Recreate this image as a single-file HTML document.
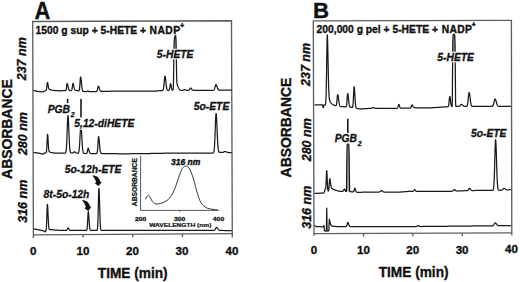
<!DOCTYPE html>
<html><head><meta charset="utf-8"><style>
html,body{margin:0;padding:0;background:#fff;}
svg{display:block;}
text{font-family:"Liberation Sans", sans-serif;fill:#111;}
.b{font-weight:bold;}
.bi{font-weight:bold;font-style:italic;}
.s{stroke:#111;stroke-width:0.35px;}
</style></head><body>
<svg width="520" height="282" viewBox="0 0 520 282">
<rect width="520" height="282" fill="#fff"/>
<!-- panel letters -->
<text class="b s" x="34.4" y="19.2" font-size="24.3" transform="translate(34.4 0) scale(0.9 1) translate(-34.4 0)">A</text>
<text class="b s" x="313.0" y="18.1" font-size="22.2">B</text>

<!-- frames -->
<g fill="none" stroke="#5e5e5e" stroke-width="1.35" stroke-linejoin="miter">
<path d="M33.4,237.9 L32.7,21.5 L231.5,20.8 L232.3,237.4"/>
<path d="M314.0,235.7 L313.3,20.9 L511.4,20.4 L511.8,235.6"/>
<path d="M33.4,234.8 L232.3,233.7"/>
<path d="M83.1,234.5 V237.6 M132.7,234.3 V237.3 M182.4,234.0 V237.0"/>
<path d="M314.0,233.6 L511.8,232.8"/>
<path d="M363.5,233.4 V236.5 M412.8,233.2 V236.3 M462.3,233.0 V236.1"/>
</g>
<!-- tick labels -->
<g class="b s" font-size="11.6" text-anchor="middle">
<text class="b s" x="33.3" y="255.30">0</text>
<text class="b s" x="83.0" y="255.10">10</text>
<text class="b s" x="132.4" y="254.90">20</text>
<text class="b s" x="182.0" y="254.71">30</text>
<text class="b s" x="232.0" y="254.51">40</text>
<text class="b s" x="314.0" y="254.20">0</text>
<text class="b s" x="363.4" y="254.00">10</text>
<text class="b s" x="412.8" y="253.80">20</text>
<text class="b s" x="462.1" y="253.61">30</text>
<text class="b s" x="511.5" y="253.41">40</text>
</g>
<text class="b s" font-size="14.4" transform="translate(97.8 278.4) scale(0.95 1)">TIME (min)</text>
<text class="b s" font-size="14.4" transform="translate(378.7 277.3) scale(0.95 1)">TIME (min)</text>

<!-- y labels -->
<text class="b s" font-size="14.8" transform="translate(11.7 178.9) rotate(-90) scale(0.94 1)">ABSORBANCE</text>
<text class="b s" font-size="14.8" transform="translate(290.9 177.4) rotate(-90) scale(0.94 1)">ABSORBANCE</text>
<g class="bi" font-size="12.5">
<text class="bi s" transform="translate(26.2 80.3) rotate(-90)">237 nm</text>
<text class="bi s" transform="translate(26.7 155.1) rotate(-90)">280 nm</text>
<text class="bi s" transform="translate(26.7 222.8) rotate(-90)">316 nm</text>
<text class="bi s" transform="translate(310.4 86.0) rotate(-90)">237 nm</text>
<text class="bi s" transform="translate(310.7 161.3) rotate(-90)">280 nm</text>
<text class="bi s" transform="translate(310.8 228.8) rotate(-90)">316 nm</text>
</g>

<!-- traces -->
<clipPath id="cp"><rect x="0" y="0" width="520" height="52"/><rect x="340" y="0" width="20" height="200"/></clipPath>
<g fill="#a8a8a8" stroke="none" clip-path="url(#cp)">
<path d="M172.50,90.11 L172.75,89.97 L173.00,89.74 L173.25,89.02 L173.50,81.89 L173.75,63.25 L174.00,47.41 L174.25,40.65 L174.50,38.47 L174.75,37.42 L175.00,36.54 L175.25,35.77 L175.50,35.28 L175.75,35.75 L176.00,39.52 L176.25,50.52 L176.50,68.25 L176.75,80.90 L177.00,83.82 L177.25,84.53 L177.50,85.22 Z"/>
<path d="M451.60,106.42 L451.85,106.66 L452.10,106.66 L452.35,97.38 L452.60,62.93 L452.85,40.74 L453.10,35.21 L453.35,34.48 L453.60,34.43 L453.85,34.40 L454.10,34.38 L454.35,34.37 L454.60,34.53 L454.85,36.46 L455.10,47.09 L455.35,76.72 L455.60,103.44 L455.85,106.47 L456.10,106.46 L456.35,106.44 Z"/>
<path d="M345.60,191.30 L345.85,191.45 L346.10,191.51 L346.35,191.44 L346.60,182.98 L346.85,158.21 L347.10,146.30 L347.35,144.16 L347.60,144.00 L347.85,144.00 L348.10,144.00 L348.35,144.01 L348.60,144.08 L348.85,145.09 L349.10,151.85 L349.35,172.74 L349.60,190.30 L349.85,191.60 L350.10,191.61 L350.35,191.63 Z"/>
</g>
<g fill="none" stroke="#1a1a1a" stroke-width="1.25" stroke-linejoin="round">
<path d="M33.50,90.34 L33.75,90.41 L34.00,90.47 L34.25,90.54 L34.50,90.61 L34.75,90.68 L35.00,90.75 L35.25,90.82 L35.50,90.89 L35.75,90.96 L36.00,91.03 L36.25,91.09 L36.50,91.16 L36.75,91.23 L37.00,91.30 L37.25,91.33 L37.50,91.36 L37.75,91.39 L38.00,91.42 L38.25,91.45 L38.50,91.47 L38.75,91.50 L39.00,91.53 L39.25,91.56 L39.50,91.59 L39.75,91.62 L40.00,91.65 L40.25,91.68 L40.50,91.71 L40.75,91.74 L41.00,91.77 L41.25,91.80 L41.50,91.83 L41.75,91.85 L42.00,91.88 L42.25,91.91 L42.50,91.94 L42.75,91.97 L43.00,92.00 L43.25,91.84 L43.50,91.68 L43.75,91.51 L44.00,91.35 L44.25,91.19 L44.50,91.03 L44.75,90.89 L45.00,90.83 L45.25,90.77 L45.50,90.70 L45.75,90.61 L46.00,90.40 L46.25,89.97 L46.50,89.01 L46.75,87.32 L47.00,85.11 L47.25,83.11 L47.50,82.30 L47.75,83.00 L48.00,84.41 L48.25,86.04 L48.50,87.41 L48.75,88.34 L49.00,88.89 L49.25,89.19 L49.50,89.37 L49.75,89.50 L50.00,89.60 L50.25,89.70 L50.50,89.78 L50.75,89.86 L51.00,89.93 L51.25,90.00 L51.50,90.06 L51.75,90.12 L52.00,90.17 L52.25,90.22 L52.50,90.26 L52.75,90.30 L53.00,90.34 L53.25,90.38 L53.50,90.41 L53.75,90.44 L54.00,90.47 L54.25,90.49 L54.50,90.52 L54.75,90.54 L55.00,90.56 L55.25,90.58 L55.50,90.60 L55.75,90.62 L56.00,90.64 L56.25,90.65 L56.50,90.67 L56.75,90.68 L57.00,90.69 L57.25,90.71 L57.50,90.72 L57.75,90.73 L58.00,90.74 L58.25,90.75 L58.50,90.75 L58.75,90.76 L59.00,90.76 L59.25,90.76 L59.50,90.77 L59.75,90.77 L60.00,90.77 L60.25,90.77 L60.50,90.76 L60.75,90.75 L61.00,90.75 L61.25,90.74 L61.50,90.74 L61.75,90.73 L62.00,90.72 L62.25,90.72 L62.50,90.71 L62.75,90.70 L63.00,90.70 L63.25,90.69 L63.50,90.68 L63.75,90.68 L64.00,90.67 L64.25,90.66 L64.50,90.65 L64.75,90.65 L65.00,90.64 L65.25,90.62 L65.50,90.56 L65.75,90.40 L66.00,89.95 L66.25,89.01 L66.50,87.45 L66.75,85.52 L67.00,83.96 L67.25,83.51 L67.50,83.97 L67.75,84.97 L68.00,86.26 L68.25,87.55 L68.50,88.64 L68.75,89.44 L69.00,89.95 L69.25,90.24 L69.50,90.39 L69.75,90.46 L70.00,90.50 L70.25,90.52 L70.50,90.53 L70.75,90.54 L71.00,90.54 L71.25,90.51 L71.50,90.39 L71.75,90.02 L72.00,89.18 L72.25,87.71 L72.50,85.76 L72.75,84.01 L73.00,83.30 L73.25,83.81 L73.50,84.74 L73.75,85.90 L74.00,87.10 L74.25,88.13 L74.50,88.94 L74.75,89.49 L75.00,89.85 L75.25,90.08 L75.50,90.22 L75.75,90.31 L76.00,90.38 L76.25,90.44 L76.50,90.49 L76.75,90.53 L77.00,90.57 L77.25,90.61 L77.50,90.64 L77.75,90.67 L78.00,90.71 L78.25,90.75 L78.50,90.78 L78.75,90.78 L79.00,90.66 L79.25,90.20 L79.50,89.00 L79.75,86.64 L80.00,83.11 L80.25,79.35 L80.50,77.00 L80.75,77.04 L81.00,78.50 L81.25,80.88 L81.50,83.59 L81.75,86.13 L82.00,88.16 L82.25,89.58 L82.50,90.46 L82.75,90.96 L83.00,91.21 L83.25,91.34 L83.50,91.41 L83.75,91.45 L84.00,91.48 L84.25,91.51 L84.50,91.54 L84.75,91.57 L85.00,91.60 L85.25,91.60 L85.50,91.61 L85.75,91.61 L86.00,91.61 L86.25,91.60 L86.50,91.57 L86.75,91.51 L87.00,91.39 L87.25,91.22 L87.50,91.04 L87.75,90.92 L88.00,90.91 L88.25,91.02 L88.50,91.20 L88.75,91.38 L89.00,91.52 L89.25,91.60 L89.50,91.64 L89.75,91.66 L90.00,91.67 L90.25,91.67 L90.50,91.68 L90.75,91.68 L91.00,91.69 L91.25,91.69 L91.50,91.69 L91.75,91.70 L92.00,91.70 L92.25,91.69 L92.50,91.68 L92.75,91.68 L93.00,91.67 L93.25,91.66 L93.50,91.65 L93.75,91.65 L94.00,91.64 L94.25,91.63 L94.50,91.62 L94.75,91.62 L95.00,91.61 L95.25,91.60 L95.50,91.59 L95.75,91.58 L96.00,91.56 L96.25,91.52 L96.50,91.43 L96.75,91.22 L97.00,90.83 L97.25,90.16 L97.50,89.21 L97.75,88.08 L98.00,87.01 L98.25,86.32 L98.50,86.23 L98.75,86.58 L99.00,87.24 L99.25,88.08 L99.50,88.96 L99.75,89.74 L100.00,90.36 L100.25,90.80 L100.50,91.09 L100.75,91.26 L101.00,91.34 L101.25,91.38 L101.50,91.39 L101.75,91.39 L102.00,91.39 L102.25,91.38 L102.50,91.38 L102.75,91.37 L103.00,91.36 L103.25,91.35 L103.50,91.35 L103.75,91.34 L104.00,91.33 L104.25,91.32 L104.50,91.32 L104.75,91.31 L105.00,91.30 L105.25,91.30 L105.50,91.29 L105.75,91.29 L106.00,91.29 L106.25,91.29 L106.50,91.28 L106.75,91.28 L107.00,91.28 L107.25,91.28 L107.50,91.27 L107.75,91.27 L108.00,91.27 L108.25,91.27 L108.50,91.26 L108.75,91.26 L109.00,91.26 L109.25,91.26 L109.50,91.25 L109.75,91.25 L110.00,91.25 L110.25,91.25 L110.50,91.24 L110.75,91.24 L111.00,91.24 L111.25,91.24 L111.50,91.23 L111.75,91.23 L112.00,91.23 L112.25,91.23 L112.50,91.22 L112.75,91.22 L113.00,91.22 L113.25,91.22 L113.50,91.21 L113.75,91.21 L114.00,91.21 L114.25,91.21 L114.50,91.20 L114.75,91.20 L115.00,91.20 L115.25,91.20 L115.50,91.19 L115.75,91.19 L116.00,91.19 L116.25,91.19 L116.50,91.18 L116.75,91.18 L117.00,91.18 L117.25,91.18 L117.50,91.17 L117.75,91.17 L118.00,91.17 L118.25,91.17 L118.50,91.16 L118.75,91.16 L119.00,91.16 L119.25,91.16 L119.50,91.15 L119.75,91.15 L120.00,91.15 L120.25,91.15 L120.50,91.14 L120.75,91.14 L121.00,91.14 L121.25,91.14 L121.50,91.13 L121.75,91.13 L122.00,91.13 L122.25,91.13 L122.50,91.12 L122.75,91.12 L123.00,91.12 L123.25,91.12 L123.50,91.11 L123.75,91.11 L124.00,91.11 L124.25,91.11 L124.50,91.10 L124.75,91.10 L125.00,91.10 L125.25,91.10 L125.50,91.09 L125.75,91.09 L126.00,91.09 L126.25,91.09 L126.50,91.08 L126.75,91.08 L127.00,91.08 L127.25,91.08 L127.50,91.07 L127.75,91.07 L128.00,91.07 L128.25,91.07 L128.50,91.06 L128.75,91.06 L129.00,91.06 L129.25,91.06 L129.50,91.05 L129.75,91.05 L130.00,91.05 L130.25,91.05 L130.50,91.04 L130.75,91.04 L131.00,91.04 L131.25,91.04 L131.50,91.03 L131.75,91.03 L132.00,91.03 L132.25,91.03 L132.50,91.02 L132.75,91.02 L133.00,91.02 L133.25,91.02 L133.50,91.01 L133.75,91.01 L134.00,91.01 L134.25,91.01 L134.50,91.00 L134.75,91.00 L135.00,91.00 L135.25,91.00 L135.50,91.00 L135.75,91.01 L136.00,91.01 L136.25,91.01 L136.50,91.01 L136.75,91.02 L137.00,91.02 L137.25,91.02 L137.50,91.02 L137.75,91.03 L138.00,91.03 L138.25,91.03 L138.50,91.03 L138.75,91.04 L139.00,91.04 L139.25,91.04 L139.50,91.04 L139.75,91.05 L140.00,91.05 L140.25,91.05 L140.50,91.05 L140.75,91.06 L141.00,91.06 L141.25,91.06 L141.50,91.06 L141.75,91.07 L142.00,91.07 L142.25,91.07 L142.50,91.08 L142.75,91.08 L143.00,91.08 L143.25,91.08 L143.50,91.09 L143.75,91.09 L144.00,91.09 L144.25,91.09 L144.50,91.09 L144.75,91.10 L145.00,91.10 L145.25,91.10 L145.50,91.11 L145.75,91.11 L146.00,91.11 L146.25,91.11 L146.50,91.11 L146.75,91.12 L147.00,91.12 L147.25,91.12 L147.50,91.12 L147.75,91.13 L148.00,91.13 L148.25,91.13 L148.50,91.14 L148.75,91.14 L149.00,91.14 L149.25,91.14 L149.50,91.14 L149.75,91.15 L150.00,91.15 L150.25,91.15 L150.50,91.16 L150.75,91.16 L151.00,91.16 L151.25,91.16 L151.50,91.17 L151.75,91.17 L152.00,91.17 L152.25,91.17 L152.50,91.17 L152.75,91.18 L153.00,91.18 L153.25,91.18 L153.50,91.19 L153.75,91.19 L154.00,91.19 L154.25,91.19 L154.50,91.20 L154.75,91.20 L155.00,91.20 L155.25,91.17 L155.50,91.14 L155.75,91.11 L156.00,91.08 L156.25,91.05 L156.50,91.02 L156.75,90.99 L157.00,90.96 L157.25,90.93 L157.50,90.90 L157.75,90.87 L158.00,90.84 L158.25,90.81 L158.50,90.78 L158.75,90.75 L159.00,90.72 L159.25,90.69 L159.50,90.66 L159.75,90.63 L160.00,90.60 L160.25,90.60 L160.50,90.59 L160.75,90.59 L161.00,90.58 L161.25,90.58 L161.50,90.58 L161.75,90.57 L162.00,90.57 L162.25,90.55 L162.50,90.51 L162.75,90.40 L163.00,90.14 L163.25,89.60 L163.50,88.58 L163.75,86.92 L164.00,84.57 L164.25,81.73 L164.50,78.90 L164.75,76.79 L165.00,76.00 L165.25,76.55 L165.50,78.07 L165.75,80.25 L166.00,82.68 L166.25,84.97 L166.50,86.88 L166.75,88.31 L167.00,89.27 L167.25,89.85 L167.50,90.18 L167.75,90.35 L168.00,90.42 L168.25,90.45 L168.50,90.45 L168.75,90.41 L169.00,90.27 L169.25,89.91 L169.50,89.16 L169.75,87.91 L170.00,86.24 L170.25,84.59 L170.50,83.60 L170.75,83.71 L171.00,84.87 L171.25,86.56 L171.50,88.15 L171.75,89.27 L172.00,89.88 L172.25,90.10 L172.50,90.11 L172.75,89.97 L173.00,89.74 L173.25,89.02 L173.50,81.89 L173.75,63.25 L174.00,47.41 L174.25,40.65 L174.50,38.47 L174.75,37.42 L175.00,36.54 L175.25,35.77 L175.50,35.28 L175.75,35.75 L176.00,39.52 L176.25,50.52 L176.50,68.25 L176.75,80.90 L177.00,83.82 L177.25,84.53 L177.50,85.22 L177.75,85.93 L178.00,86.62 L178.25,87.26 L178.50,87.85 L178.75,88.37 L179.00,88.81 L179.25,89.17 L179.50,89.46 L179.75,89.69 L180.00,89.87 L180.25,90.00 L180.50,90.10 L180.75,90.17 L181.00,90.21 L181.25,90.25 L181.50,90.27 L181.75,90.28 L182.00,90.29 L182.25,90.29 L182.50,90.27 L182.75,90.24 L183.00,90.18 L183.25,90.10 L183.50,89.98 L183.75,89.85 L184.00,89.73 L184.25,89.63 L184.50,89.60 L184.75,89.63 L185.00,89.73 L185.25,89.86 L185.50,89.99 L185.75,90.11 L186.00,90.20 L186.25,90.25 L186.50,90.29 L186.75,90.31 L187.00,90.32 L187.25,90.32 L187.50,90.32 L187.75,90.32 L188.00,90.31 L188.25,90.30 L188.50,90.25 L188.75,90.17 L189.00,90.03 L189.25,89.79 L189.50,89.46 L189.75,89.06 L190.00,88.65 L190.25,88.30 L190.50,88.12 L190.75,88.13 L191.00,88.27 L191.25,88.53 L191.50,88.85 L191.75,89.18 L192.00,89.50 L192.25,89.76 L192.50,89.97 L192.75,90.12 L193.00,90.21 L193.25,90.27 L193.50,90.31 L193.75,90.33 L194.00,90.34 L194.25,90.34 L194.50,90.34 L194.75,90.34 L195.00,90.35 L195.25,90.35 L195.50,90.35 L195.75,90.35 L196.00,90.35 L196.25,90.35 L196.50,90.35 L196.75,90.35 L197.00,90.35 L197.25,90.35 L197.50,90.35 L197.75,90.35 L198.00,90.35 L198.25,90.36 L198.50,90.36 L198.75,90.36 L199.00,90.36 L199.25,90.36 L199.50,90.36 L199.75,90.36 L200.00,90.36 L200.25,90.36 L200.50,90.36 L200.75,90.36 L201.00,90.36 L201.25,90.36 L201.50,90.37 L201.75,90.37 L202.00,90.37 L202.25,90.37 L202.50,90.37 L202.75,90.37 L203.00,90.37 L203.25,90.37 L203.50,90.37 L203.75,90.37 L204.00,90.37 L204.25,90.37 L204.50,90.37 L204.75,90.38 L205.00,90.38 L205.25,90.38 L205.50,90.38 L205.75,90.38 L206.00,90.38 L206.25,90.38 L206.50,90.38 L206.75,90.38 L207.00,90.38 L207.25,90.38 L207.50,90.38 L207.75,90.38 L208.00,90.38 L208.25,90.39 L208.50,90.39 L208.75,90.39 L209.00,90.39 L209.25,90.39 L209.50,90.39 L209.75,90.39 L210.00,90.39 L210.25,90.39 L210.50,90.39 L210.75,90.39 L211.00,90.39 L211.25,90.39 L211.50,90.40 L211.75,90.40 L212.00,90.40 L212.25,90.40 L212.50,90.40 L212.75,90.39 L213.00,90.38 L213.25,90.34 L213.50,90.27 L213.75,90.13 L214.00,89.89 L214.25,89.50 L214.50,88.93 L214.75,88.17 L215.00,87.26 L215.25,86.30 L215.50,85.43 L215.75,84.82 L216.00,84.60 L216.25,84.74 L216.50,85.15 L216.75,85.76 L217.00,86.51 L217.25,87.28 L217.50,88.02 L217.75,88.65 L218.00,89.16 L218.25,89.54 L218.50,89.81 L218.75,89.98 L219.00,90.09 L219.25,90.15 L219.50,90.18 L219.75,90.19 L220.00,90.19 L220.25,90.20 L220.50,90.20 L220.75,90.20 L221.00,90.20 L221.25,90.20 L221.50,90.20 L221.75,90.20 L222.00,90.20 L222.25,90.20 L222.50,90.20 L222.75,90.20 L223.00,90.20 L223.25,90.20 L223.50,90.20 L223.75,90.20 L224.00,90.20 L224.25,90.20 L224.50,90.20 L224.75,90.20 L225.00,90.20 L225.25,90.20 L225.50,90.20 L225.75,90.20 L226.00,90.20 L226.25,90.20 L226.50,90.20 L226.75,90.20 L227.00,90.20 L227.25,90.20 L227.50,90.20 L227.75,90.20 L228.00,90.20 L228.25,90.20 L228.50,90.20 L228.75,90.20 L229.00,90.20 L229.25,90.20 L229.50,90.20 L229.75,90.20 L230.00,90.20 L230.25,90.20 L230.50,90.20 L230.75,90.20 L231.00,90.20 L231.25,90.20 L231.50,90.20 L231.75,90.20"/>
<path d="M33.50,152.38 L33.75,152.42 L34.00,152.46 L34.25,152.50 L34.50,152.54 L34.75,152.58 L35.00,152.61 L35.25,152.65 L35.50,152.69 L35.75,152.73 L36.00,152.77 L36.25,152.81 L36.50,152.85 L36.75,152.89 L37.00,152.93 L37.25,152.97 L37.50,153.01 L37.75,153.05 L38.00,153.09 L38.25,153.12 L38.50,153.16 L38.75,153.20 L39.00,153.24 L39.25,153.28 L39.50,153.32 L39.75,153.36 L40.00,153.40 L40.25,153.47 L40.50,153.55 L40.75,153.62 L41.00,153.69 L41.25,153.76 L41.50,153.84 L41.75,153.91 L42.00,153.98 L42.25,154.05 L42.50,154.13 L42.75,154.20 L43.00,154.27 L43.25,154.15 L43.50,153.90 L43.75,153.65 L44.00,153.40 L44.25,153.15 L44.50,152.98 L44.75,152.95 L45.00,152.91 L45.25,152.87 L45.50,152.83 L45.75,152.77 L46.00,152.64 L46.25,152.23 L46.50,151.02 L46.75,148.25 L47.00,143.53 L47.25,138.03 L47.50,134.36 L47.75,134.78 L48.00,138.27 L48.25,142.94 L48.50,147.01 L48.75,149.65 L49.00,151.02 L49.25,151.62 L49.50,151.89 L49.75,152.03 L50.00,152.14 L50.25,152.23 L50.50,152.31 L50.75,152.37 L51.00,152.44 L51.25,152.49 L51.50,152.54 L51.75,152.59 L52.00,152.65 L52.25,152.71 L52.50,152.76 L52.75,152.81 L53.00,152.85 L53.25,152.90 L53.50,152.94 L53.75,152.98 L54.00,153.02 L54.25,153.06 L54.50,153.09 L54.75,153.13 L55.00,153.16 L55.25,153.17 L55.50,153.17 L55.75,153.18 L56.00,153.18 L56.25,153.18 L56.50,153.18 L56.75,153.19 L57.00,153.19 L57.25,153.19 L57.50,153.19 L57.75,153.19 L58.00,153.19 L58.25,153.19 L58.50,153.19 L58.75,153.20 L59.00,153.20 L59.25,153.20 L59.50,153.20 L59.75,153.20 L60.00,153.20 L60.25,153.20 L60.50,153.20 L60.75,153.20 L61.00,153.20 L61.25,153.20 L61.50,153.20 L61.75,153.20 L62.00,153.20 L62.25,153.20 L62.50,153.20 L62.75,153.20 L63.00,153.20 L63.25,153.20 L63.50,153.20 L63.75,153.20 L64.00,153.20 L64.25,153.20 L64.50,153.20 L64.75,153.19 L65.00,153.17 L65.25,153.08 L65.50,152.89 L65.75,152.44 L66.00,151.49 L66.25,149.69 L66.50,146.61 L66.75,141.97 L67.00,135.82 L67.25,128.76 L67.50,122.02 L67.75,117.11 L68.00,115.30 L68.25,116.88 L68.50,121.27 L68.75,127.43 L69.00,134.10 L69.25,140.18 L69.50,145.01 L69.75,148.42 L70.00,150.57 L70.25,151.79 L70.50,152.42 L70.75,152.70 L71.00,152.84 L71.25,152.90 L71.50,152.93 L71.75,152.94 L72.00,152.95 L72.25,152.95 L72.50,152.93 L72.75,152.88 L73.00,152.79 L73.25,152.65 L73.50,152.45 L73.75,152.22 L74.00,152.00 L74.25,151.85 L74.50,151.80 L74.75,151.87 L75.00,152.05 L75.25,152.30 L75.50,152.55 L75.75,152.78 L76.00,152.95 L76.25,153.06 L76.50,153.14 L76.75,153.18 L77.00,153.20 L77.25,153.22 L77.50,153.22 L77.75,153.21 L78.00,153.17 L78.25,153.04 L78.50,152.75 L78.75,152.12 L79.00,150.96 L79.25,148.99 L79.50,146.00 L79.75,141.96 L80.00,137.14 L80.25,132.17 L80.50,127.96 L80.75,125.43 L81.00,125.18 L81.25,127.08 L81.50,130.67 L81.75,135.24 L82.00,139.97 L82.25,144.21 L82.50,147.58 L82.75,150.00 L83.00,151.58 L83.25,152.51 L83.50,153.02 L83.75,153.28 L84.00,153.41 L84.25,153.46 L84.50,153.49 L84.75,153.50 L85.00,153.50 L85.25,153.51 L85.50,153.51 L85.75,153.51 L86.00,153.50 L86.25,153.49 L86.50,153.42 L86.75,153.23 L87.00,152.80 L87.25,152.00 L87.50,150.82 L87.75,149.50 L88.00,148.49 L88.25,148.21 L88.50,148.56 L88.75,149.33 L89.00,150.30 L89.25,151.28 L89.50,152.11 L89.75,152.72 L90.00,153.12 L90.25,153.34 L90.50,153.46 L90.75,153.51 L91.00,153.54 L91.25,153.55 L91.50,153.55 L91.75,153.55 L92.00,153.55 L92.25,153.56 L92.50,153.56 L92.75,153.56 L93.00,153.56 L93.25,153.56 L93.50,153.57 L93.75,153.57 L94.00,153.57 L94.25,153.57 L94.50,153.57 L94.75,153.57 L95.00,153.58 L95.25,153.58 L95.50,153.58 L95.75,153.58 L96.00,153.58 L96.25,153.58 L96.50,153.55 L96.75,153.44 L97.00,153.10 L97.25,152.23 L97.50,150.41 L97.75,147.33 L98.00,143.22 L98.25,139.17 L98.50,136.74 L98.75,136.77 L99.00,138.30 L99.25,140.84 L99.50,143.85 L99.75,146.76 L100.00,149.21 L100.25,151.01 L100.50,152.21 L100.75,152.92 L101.00,153.30 L101.25,153.49 L101.50,153.57 L101.75,153.61 L102.00,153.62 L102.25,153.63 L102.50,153.63 L102.75,153.63 L103.00,153.63 L103.25,153.64 L103.50,153.64 L103.75,153.64 L104.00,153.64 L104.25,153.64 L104.50,153.64 L104.75,153.65 L105.00,153.65 L105.25,153.65 L105.50,153.65 L105.75,153.65 L106.00,153.66 L106.25,153.66 L106.50,153.66 L106.75,153.66 L107.00,153.66 L107.25,153.66 L107.50,153.67 L107.75,153.67 L108.00,153.67 L108.25,153.67 L108.50,153.67 L108.75,153.68 L109.00,153.68 L109.25,153.68 L109.50,153.68 L109.75,153.68 L110.00,153.68 L110.25,153.69 L110.50,153.69 L110.75,153.69 L111.00,153.69 L111.25,153.69 L111.50,153.70 L111.75,153.70 L112.00,153.70 L112.25,153.70 L112.50,153.70 L112.75,153.70 L113.00,153.71 L113.25,153.71 L113.50,153.71 L113.75,153.71 L114.00,153.71 L114.25,153.72 L114.50,153.72 L114.75,153.72 L115.00,153.72 L115.25,153.72 L115.50,153.72 L115.75,153.73 L116.00,153.73 L116.25,153.73 L116.50,153.73 L116.75,153.73 L117.00,153.73 L117.25,153.74 L117.50,153.74 L117.75,153.74 L118.00,153.74 L118.25,153.74 L118.50,153.75 L118.75,153.75 L119.00,153.75 L119.25,153.75 L119.50,153.75 L119.75,153.75 L120.00,153.76 L120.25,153.76 L120.50,153.76 L120.75,153.76 L121.00,153.76 L121.25,153.77 L121.50,153.77 L121.75,153.77 L122.00,153.77 L122.25,153.77 L122.50,153.77 L122.75,153.78 L123.00,153.78 L123.25,153.78 L123.50,153.78 L123.75,153.78 L124.00,153.79 L124.25,153.79 L124.50,153.79 L124.75,153.79 L125.00,153.79 L125.25,153.79 L125.50,153.80 L125.75,153.80 L126.00,153.80 L126.25,153.80 L126.50,153.79 L126.75,153.79 L127.00,153.79 L127.25,153.78 L127.50,153.78 L127.75,153.78 L128.00,153.78 L128.25,153.77 L128.50,153.77 L128.75,153.77 L129.00,153.76 L129.25,153.76 L129.50,153.76 L129.75,153.75 L130.00,153.75 L130.25,153.75 L130.50,153.74 L130.75,153.74 L131.00,153.74 L131.25,153.73 L131.50,153.73 L131.75,153.73 L132.00,153.73 L132.25,153.72 L132.50,153.72 L132.75,153.72 L133.00,153.71 L133.25,153.71 L133.50,153.71 L133.75,153.70 L134.00,153.70 L134.25,153.70 L134.50,153.69 L134.75,153.69 L135.00,153.69 L135.25,153.68 L135.50,153.68 L135.75,153.68 L136.00,153.68 L136.25,153.67 L136.50,153.67 L136.75,153.67 L137.00,153.66 L137.25,153.66 L137.50,153.66 L137.75,153.65 L138.00,153.65 L138.25,153.65 L138.50,153.64 L138.75,153.64 L139.00,153.64 L139.25,153.63 L139.50,153.63 L139.75,153.63 L140.00,153.62 L140.25,153.62 L140.50,153.62 L140.75,153.62 L141.00,153.61 L141.25,153.61 L141.50,153.61 L141.75,153.60 L142.00,153.60 L142.25,153.60 L142.50,153.59 L142.75,153.59 L143.00,153.59 L143.25,153.58 L143.50,153.58 L143.75,153.58 L144.00,153.57 L144.25,153.57 L144.50,153.57 L144.75,153.57 L145.00,153.56 L145.25,153.56 L145.50,153.56 L145.75,153.55 L146.00,153.55 L146.25,153.55 L146.50,153.54 L146.75,153.54 L147.00,153.54 L147.25,153.53 L147.50,153.53 L147.75,153.53 L148.00,153.53 L148.25,153.52 L148.50,153.52 L148.75,153.52 L149.00,153.51 L149.25,153.51 L149.50,153.51 L149.75,153.50 L150.00,153.50 L150.25,153.50 L150.50,153.49 L150.75,153.49 L151.00,153.48 L151.25,153.48 L151.50,153.47 L151.75,153.47 L152.00,153.46 L152.25,153.46 L152.50,153.45 L152.75,153.45 L153.00,153.44 L153.25,153.44 L153.50,153.43 L153.75,153.43 L154.00,153.42 L154.25,153.42 L154.50,153.41 L154.75,153.41 L155.00,153.40 L155.25,153.40 L155.50,153.39 L155.75,153.39 L156.00,153.38 L156.25,153.38 L156.50,153.38 L156.75,153.37 L157.00,153.37 L157.25,153.36 L157.50,153.36 L157.75,153.35 L158.00,153.35 L158.25,153.34 L158.50,153.34 L158.75,153.33 L159.00,153.33 L159.25,153.32 L159.50,153.32 L159.75,153.31 L160.00,153.31 L160.25,153.30 L160.50,153.30 L160.75,153.29 L161.00,153.29 L161.25,153.28 L161.50,153.28 L161.75,153.27 L162.00,153.27 L162.25,153.26 L162.50,153.26 L162.75,153.25 L163.00,153.25 L163.25,153.25 L163.50,153.24 L163.75,153.24 L164.00,153.23 L164.25,153.23 L164.50,153.22 L164.75,153.22 L165.00,153.21 L165.25,153.21 L165.50,153.20 L165.75,153.20 L166.00,153.19 L166.25,153.19 L166.50,153.18 L166.75,153.18 L167.00,153.17 L167.25,153.17 L167.50,153.16 L167.75,153.16 L168.00,153.15 L168.25,153.15 L168.50,153.14 L168.75,153.14 L169.00,153.13 L169.25,153.13 L169.50,153.12 L169.75,153.12 L170.00,153.12 L170.25,153.11 L170.50,153.11 L170.75,153.10 L171.00,153.10 L171.25,153.09 L171.50,153.09 L171.75,153.08 L172.00,153.08 L172.25,153.07 L172.50,153.07 L172.75,153.06 L173.00,153.06 L173.25,153.05 L173.50,153.05 L173.75,153.04 L174.00,153.04 L174.25,153.03 L174.50,153.03 L174.75,153.02 L175.00,153.02 L175.25,153.01 L175.50,153.01 L175.75,153.00 L176.00,153.00 L176.25,153.00 L176.50,153.00 L176.75,153.00 L177.00,153.00 L177.25,153.00 L177.50,153.00 L177.75,153.00 L178.00,153.01 L178.25,153.01 L178.50,153.01 L178.75,153.01 L179.00,153.01 L179.25,153.01 L179.50,153.01 L179.75,153.01 L180.00,153.01 L180.25,153.01 L180.50,153.01 L180.75,153.01 L181.00,153.01 L181.25,153.01 L181.50,153.01 L181.75,153.02 L182.00,153.02 L182.25,153.02 L182.50,153.02 L182.75,153.02 L183.00,153.02 L183.25,153.02 L183.50,153.02 L183.75,153.02 L184.00,153.02 L184.25,153.02 L184.50,153.02 L184.75,153.02 L185.00,153.02 L185.25,153.03 L185.50,153.03 L185.75,153.03 L186.00,153.03 L186.25,153.03 L186.50,153.03 L186.75,153.03 L187.00,153.03 L187.25,153.03 L187.50,153.03 L187.75,153.03 L188.00,153.03 L188.25,153.03 L188.50,153.03 L188.75,153.03 L189.00,153.04 L189.25,153.04 L189.50,153.04 L189.75,153.04 L190.00,153.04 L190.25,153.04 L190.50,153.04 L190.75,153.04 L191.00,153.04 L191.25,153.04 L191.50,153.04 L191.75,153.04 L192.00,153.04 L192.25,153.04 L192.50,153.04 L192.75,153.05 L193.00,153.05 L193.25,153.05 L193.50,153.05 L193.75,153.05 L194.00,153.05 L194.25,153.05 L194.50,153.05 L194.75,153.05 L195.00,153.05 L195.25,153.05 L195.50,153.05 L195.75,153.05 L196.00,153.05 L196.25,153.05 L196.50,153.06 L196.75,153.06 L197.00,153.06 L197.25,153.06 L197.50,153.06 L197.75,153.06 L198.00,153.06 L198.25,153.06 L198.50,153.06 L198.75,153.06 L199.00,153.06 L199.25,153.06 L199.50,153.06 L199.75,153.06 L200.00,153.06 L200.25,153.07 L200.50,153.07 L200.75,153.07 L201.00,153.07 L201.25,153.07 L201.50,153.07 L201.75,153.07 L202.00,153.07 L202.25,153.07 L202.50,153.07 L202.75,153.07 L203.00,153.07 L203.25,153.07 L203.50,153.07 L203.75,153.07 L204.00,153.08 L204.25,153.08 L204.50,153.08 L204.75,153.08 L205.00,153.08 L205.25,153.08 L205.50,153.08 L205.75,153.08 L206.00,153.08 L206.25,153.08 L206.50,153.08 L206.75,153.08 L207.00,153.08 L207.25,153.08 L207.50,153.09 L207.75,153.09 L208.00,153.09 L208.25,153.09 L208.50,153.09 L208.75,153.09 L209.00,153.09 L209.25,153.09 L209.50,153.09 L209.75,153.09 L210.00,153.09 L210.25,153.09 L210.50,153.09 L210.75,153.09 L211.00,153.09 L211.25,153.10 L211.50,153.10 L211.75,153.10 L212.00,153.10 L212.25,153.10 L212.50,153.09 L212.75,153.08 L213.00,153.05 L213.25,152.93 L213.50,152.68 L213.75,152.15 L214.00,151.12 L214.25,149.26 L214.50,146.22 L214.75,141.72 L215.00,135.80 L215.25,128.92 L215.50,122.07 L215.75,116.55 L216.00,113.58 L216.25,113.77 L216.50,116.60 L216.75,121.45 L217.00,127.45 L217.25,133.65 L217.50,139.26 L217.75,143.82 L218.00,147.18 L218.25,149.44 L218.50,150.84 L218.75,151.62 L219.00,152.03 L219.25,152.24 L219.50,152.34 L219.75,152.39 L220.00,152.41 L220.25,152.42 L220.50,152.42 L220.75,152.43 L221.00,152.43 L221.25,152.43 L221.50,152.44 L221.75,152.44 L222.00,152.43 L222.25,152.42 L222.50,152.40 L222.75,152.36 L223.00,152.30 L223.25,152.21 L223.50,152.10 L223.75,151.96 L224.00,151.82 L224.25,151.68 L224.50,151.57 L224.75,151.51 L225.00,151.50 L225.25,151.53 L225.50,151.59 L225.75,151.66 L226.00,151.75 L226.25,151.85 L226.50,151.95 L226.75,152.06 L227.00,152.15 L227.25,152.24 L227.50,152.31 L227.75,152.37 L228.00,152.42 L228.25,152.46 L228.50,152.49 L228.75,152.51 L229.00,152.53 L229.25,152.54 L229.50,152.55 L229.75,152.56 L230.00,152.57 L230.25,152.57 L230.50,152.58 L230.75,152.58 L231.00,152.58 L231.25,152.59 L231.50,152.59 L231.75,152.60"/>
<path d="M33.50,228.80 L33.75,228.85 L34.00,228.89 L34.25,228.94 L34.50,228.99 L34.75,229.04 L35.00,229.09 L35.25,229.14 L35.50,229.19 L35.75,229.24 L36.00,229.28 L36.25,229.33 L36.50,229.38 L36.75,229.43 L37.00,229.48 L37.25,229.53 L37.50,229.58 L37.75,229.63 L38.00,229.67 L38.25,229.72 L38.50,229.77 L38.75,229.82 L39.00,229.87 L39.25,229.92 L39.50,229.97 L39.75,230.01 L40.00,230.06 L40.25,230.11 L40.50,230.16 L40.75,230.21 L41.00,230.26 L41.25,230.32 L41.50,230.37 L41.75,230.42 L42.00,230.48 L42.25,230.53 L42.50,230.59 L42.75,230.64 L43.00,230.69 L43.25,230.75 L43.50,230.80 L43.75,230.97 L44.00,231.14 L44.25,231.32 L44.50,231.49 L44.75,231.66 L45.00,231.83 L45.25,231.75 L45.50,231.48 L45.75,231.14 L46.00,230.48 L46.25,228.89 L46.50,225.32 L46.75,219.19 L47.00,211.37 L47.25,205.29 L47.50,204.38 L47.75,207.54 L48.00,213.02 L48.25,218.92 L48.50,223.74 L48.75,226.89 L49.00,228.59 L49.25,229.34 L49.50,229.59 L49.75,229.63 L50.00,229.59 L50.25,229.62 L50.50,229.64 L50.75,229.66 L51.00,229.68 L51.25,229.70 L51.50,229.72 L51.75,229.74 L52.00,229.76 L52.25,229.78 L52.50,229.80 L52.75,229.82 L53.00,229.84 L53.25,229.86 L53.50,229.88 L53.75,229.90 L54.00,229.92 L54.25,229.94 L54.50,229.96 L54.75,229.98 L55.00,230.00 L55.25,230.02 L55.50,230.04 L55.75,230.06 L56.00,230.08 L56.25,230.10 L56.50,230.12 L56.75,230.14 L57.00,230.16 L57.25,230.18 L57.50,230.20 L57.75,230.22 L58.00,230.24 L58.25,230.26 L58.50,230.28 L58.75,230.30 L59.00,230.32 L59.25,230.34 L59.50,230.36 L59.75,230.38 L60.00,230.40 L60.25,230.40 L60.50,230.40 L60.75,230.40 L61.00,230.40 L61.25,230.40 L61.50,230.40 L61.75,230.40 L62.00,230.40 L62.25,230.40 L62.50,230.40 L62.75,230.40 L63.00,230.40 L63.25,230.40 L63.50,230.40 L63.75,230.40 L64.00,230.40 L64.25,230.40 L64.50,230.40 L64.75,230.40 L65.00,230.40 L65.25,230.40 L65.50,230.40 L65.75,230.40 L66.00,230.40 L66.25,230.38 L66.50,230.33 L66.75,230.20 L67.00,229.92 L67.25,229.45 L67.50,228.82 L67.75,228.21 L68.00,227.84 L68.25,227.85 L68.50,228.11 L68.75,228.53 L69.00,229.02 L69.25,229.48 L69.50,229.84 L69.75,230.10 L70.00,230.25 L70.25,230.34 L70.50,230.38 L70.75,230.40 L71.00,230.40 L71.25,230.41 L71.50,230.41 L71.75,230.41 L72.00,230.41 L72.25,230.41 L72.50,230.41 L72.75,230.41 L73.00,230.41 L73.25,230.41 L73.50,230.41 L73.75,230.41 L74.00,230.41 L74.25,230.41 L74.50,230.41 L74.75,230.41 L75.00,230.41 L75.25,230.41 L75.50,230.41 L75.75,230.41 L76.00,230.41 L76.25,230.41 L76.50,230.41 L76.75,230.41 L77.00,230.41 L77.25,230.41 L77.50,230.41 L77.75,230.41 L78.00,230.41 L78.25,230.41 L78.50,230.41 L78.75,230.41 L79.00,230.41 L79.25,230.41 L79.50,230.41 L79.75,230.41 L80.00,230.41 L80.25,230.41 L80.50,230.41 L80.75,230.41 L81.00,230.41 L81.25,230.41 L81.50,230.41 L81.75,230.41 L82.00,230.41 L82.25,230.41 L82.50,230.41 L82.75,230.41 L83.00,230.41 L83.25,230.41 L83.50,230.41 L83.75,230.41 L84.00,230.41 L84.25,230.41 L84.50,230.41 L84.75,230.41 L85.00,230.41 L85.25,230.41 L85.50,230.41 L85.75,230.41 L86.00,230.41 L86.25,230.40 L86.50,230.33 L86.75,230.06 L87.00,229.26 L87.25,227.36 L87.50,223.85 L87.75,218.94 L88.00,214.11 L88.25,211.58 L88.50,212.26 L88.75,215.03 L89.00,218.94 L89.25,222.89 L89.50,226.07 L89.75,228.20 L90.00,229.43 L90.25,230.03 L90.50,230.28 L90.75,230.38 L91.00,230.41 L91.25,230.42 L91.50,230.42 L91.75,230.42 L92.00,230.42 L92.25,230.42 L92.50,230.42 L92.75,230.42 L93.00,230.42 L93.25,230.42 L93.50,230.42 L93.75,230.42 L94.00,230.42 L94.25,230.42 L94.50,230.42 L94.75,230.42 L95.00,230.42 L95.25,230.42 L95.50,230.42 L95.75,230.42 L96.00,230.42 L96.25,230.42 L96.50,230.42 L96.75,230.40 L97.00,230.31 L97.25,229.95 L97.50,228.76 L97.75,225.65 L98.00,219.30 L98.25,209.32 L98.50,197.86 L98.75,189.55 L99.00,188.43 L99.25,192.98 L99.50,201.04 L99.75,210.13 L100.00,218.08 L100.25,223.82 L100.50,227.31 L100.75,229.13 L101.00,229.95 L101.25,230.27 L101.50,230.38 L101.75,230.41 L102.00,230.42 L102.25,230.42 L102.50,230.42 L102.75,230.42 L103.00,230.42 L103.25,230.43 L103.50,230.43 L103.75,230.43 L104.00,230.43 L104.25,230.43 L104.50,230.43 L104.75,230.43 L105.00,230.43 L105.25,230.43 L105.50,230.43 L105.75,230.43 L106.00,230.43 L106.25,230.43 L106.50,230.43 L106.75,230.43 L107.00,230.43 L107.25,230.43 L107.50,230.43 L107.75,230.43 L108.00,230.43 L108.25,230.43 L108.50,230.43 L108.75,230.43 L109.00,230.43 L109.25,230.43 L109.50,230.43 L109.75,230.43 L110.00,230.43 L110.25,230.43 L110.50,230.43 L110.75,230.43 L111.00,230.43 L111.25,230.43 L111.50,230.43 L111.75,230.43 L112.00,230.43 L112.25,230.43 L112.50,230.43 L112.75,230.43 L113.00,230.43 L113.25,230.43 L113.50,230.43 L113.75,230.43 L114.00,230.43 L114.25,230.43 L114.50,230.43 L114.75,230.43 L115.00,230.43 L115.25,230.43 L115.50,230.43 L115.75,230.43 L116.00,230.43 L116.25,230.43 L116.50,230.43 L116.75,230.43 L117.00,230.43 L117.25,230.43 L117.50,230.43 L117.75,230.43 L118.00,230.43 L118.25,230.43 L118.50,230.43 L118.75,230.43 L119.00,230.43 L119.25,230.43 L119.50,230.43 L119.75,230.43 L120.00,230.43 L120.25,230.44 L120.50,230.44 L120.75,230.44 L121.00,230.44 L121.25,230.44 L121.50,230.44 L121.75,230.44 L122.00,230.44 L122.25,230.44 L122.50,230.44 L122.75,230.44 L123.00,230.44 L123.25,230.44 L123.50,230.44 L123.75,230.44 L124.00,230.44 L124.25,230.44 L124.50,230.44 L124.75,230.44 L125.00,230.44 L125.25,230.44 L125.50,230.44 L125.75,230.44 L126.00,230.44 L126.25,230.44 L126.50,230.44 L126.75,230.44 L127.00,230.44 L127.25,230.44 L127.50,230.44 L127.75,230.44 L128.00,230.44 L128.25,230.44 L128.50,230.44 L128.75,230.44 L129.00,230.44 L129.25,230.44 L129.50,230.44 L129.75,230.44 L130.00,230.44 L130.25,230.44 L130.50,230.44 L130.75,230.44 L131.00,230.44 L131.25,230.44 L131.50,230.44 L131.75,230.44 L132.00,230.44 L132.25,230.44 L132.50,230.44 L132.75,230.44 L133.00,230.44 L133.25,230.44 L133.50,230.44 L133.75,230.44 L134.00,230.44 L134.25,230.44 L134.50,230.44 L134.75,230.44 L135.00,230.44 L135.25,230.44 L135.50,230.44 L135.75,230.44 L136.00,230.44 L136.25,230.44 L136.50,230.44 L136.75,230.44 L137.00,230.44 L137.25,230.44 L137.50,230.45 L137.75,230.45 L138.00,230.45 L138.25,230.45 L138.50,230.45 L138.75,230.45 L139.00,230.45 L139.25,230.45 L139.50,230.45 L139.75,230.45 L140.00,230.45 L140.25,230.45 L140.50,230.45 L140.75,230.45 L141.00,230.45 L141.25,230.45 L141.50,230.45 L141.75,230.45 L142.00,230.45 L142.25,230.45 L142.50,230.45 L142.75,230.45 L143.00,230.45 L143.25,230.45 L143.50,230.45 L143.75,230.45 L144.00,230.45 L144.25,230.45 L144.50,230.45 L144.75,230.45 L145.00,230.45 L145.25,230.45 L145.50,230.45 L145.75,230.45 L146.00,230.45 L146.25,230.45 L146.50,230.45 L146.75,230.45 L147.00,230.45 L147.25,230.45 L147.50,230.45 L147.75,230.45 L148.00,230.45 L148.25,230.45 L148.50,230.45 L148.75,230.45 L149.00,230.45 L149.25,230.45 L149.50,230.45 L149.75,230.45 L150.00,230.45 L150.25,230.45 L150.50,230.45 L150.75,230.45 L151.00,230.45 L151.25,230.45 L151.50,230.45 L151.75,230.45 L152.00,230.45 L152.25,230.45 L152.50,230.45 L152.75,230.45 L153.00,230.45 L153.25,230.45 L153.50,230.45 L153.75,230.45 L154.00,230.45 L154.25,230.45 L154.50,230.45 L154.75,230.46 L155.00,230.46 L155.25,230.46 L155.50,230.46 L155.75,230.46 L156.00,230.46 L156.25,230.46 L156.50,230.46 L156.75,230.46 L157.00,230.46 L157.25,230.46 L157.50,230.46 L157.75,230.46 L158.00,230.46 L158.25,230.46 L158.50,230.46 L158.75,230.46 L159.00,230.46 L159.25,230.46 L159.50,230.46 L159.75,230.46 L160.00,230.46 L160.25,230.46 L160.50,230.46 L160.75,230.46 L161.00,230.46 L161.25,230.46 L161.50,230.46 L161.75,230.46 L162.00,230.46 L162.25,230.46 L162.50,230.46 L162.75,230.46 L163.00,230.46 L163.25,230.46 L163.50,230.46 L163.75,230.46 L164.00,230.46 L164.25,230.46 L164.50,230.46 L164.75,230.46 L165.00,230.46 L165.25,230.46 L165.50,230.46 L165.75,230.46 L166.00,230.46 L166.25,230.46 L166.50,230.46 L166.75,230.46 L167.00,230.46 L167.25,230.46 L167.50,230.46 L167.75,230.46 L168.00,230.46 L168.25,230.46 L168.50,230.46 L168.75,230.46 L169.00,230.46 L169.25,230.46 L169.50,230.46 L169.75,230.46 L170.00,230.46 L170.25,230.46 L170.50,230.46 L170.75,230.46 L171.00,230.46 L171.25,230.46 L171.50,230.46 L171.75,230.46 L172.00,230.47 L172.25,230.47 L172.50,230.47 L172.75,230.47 L173.00,230.47 L173.25,230.47 L173.50,230.47 L173.75,230.47 L174.00,230.47 L174.25,230.47 L174.50,230.47 L174.75,230.47 L175.00,230.47 L175.25,230.47 L175.50,230.47 L175.75,230.47 L176.00,230.47 L176.25,230.47 L176.50,230.47 L176.75,230.47 L177.00,230.47 L177.25,230.47 L177.50,230.47 L177.75,230.47 L178.00,230.47 L178.25,230.47 L178.50,230.47 L178.75,230.47 L179.00,230.47 L179.25,230.47 L179.50,230.47 L179.75,230.47 L180.00,230.47 L180.25,230.47 L180.50,230.47 L180.75,230.47 L181.00,230.47 L181.25,230.47 L181.50,230.47 L181.75,230.47 L182.00,230.47 L182.25,230.47 L182.50,230.47 L182.75,230.47 L183.00,230.47 L183.25,230.47 L183.50,230.47 L183.75,230.47 L184.00,230.47 L184.25,230.47 L184.50,230.47 L184.75,230.47 L185.00,230.47 L185.25,230.47 L185.50,230.47 L185.75,230.47 L186.00,230.47 L186.25,230.47 L186.50,230.47 L186.75,230.47 L187.00,230.47 L187.25,230.47 L187.50,230.47 L187.75,230.47 L188.00,230.47 L188.25,230.47 L188.50,230.47 L188.75,230.47 L189.00,230.47 L189.25,230.48 L189.50,230.48 L189.75,230.48 L190.00,230.48 L190.25,230.48 L190.50,230.48 L190.75,230.48 L191.00,230.48 L191.25,230.48 L191.50,230.48 L191.75,230.48 L192.00,230.48 L192.25,230.48 L192.50,230.48 L192.75,230.48 L193.00,230.48 L193.25,230.48 L193.50,230.48 L193.75,230.48 L194.00,230.48 L194.25,230.48 L194.50,230.48 L194.75,230.48 L195.00,230.48 L195.25,230.48 L195.50,230.48 L195.75,230.48 L196.00,230.48 L196.25,230.48 L196.50,230.48 L196.75,230.48 L197.00,230.48 L197.25,230.48 L197.50,230.48 L197.75,230.48 L198.00,230.48 L198.25,230.48 L198.50,230.48 L198.75,230.48 L199.00,230.48 L199.25,230.48 L199.50,230.48 L199.75,230.48 L200.00,230.48 L200.25,230.48 L200.50,230.48 L200.75,230.48 L201.00,230.48 L201.25,230.48 L201.50,230.48 L201.75,230.48 L202.00,230.48 L202.25,230.48 L202.50,230.48 L202.75,230.48 L203.00,230.48 L203.25,230.48 L203.50,230.48 L203.75,230.48 L204.00,230.48 L204.25,230.48 L204.50,230.48 L204.75,230.48 L205.00,230.48 L205.25,230.48 L205.50,230.48 L205.75,230.48 L206.00,230.48 L206.25,230.49 L206.50,230.49 L206.75,230.49 L207.00,230.49 L207.25,230.49 L207.50,230.49 L207.75,230.49 L208.00,230.49 L208.25,230.49 L208.50,230.49 L208.75,230.49 L209.00,230.49 L209.25,230.49 L209.50,230.49 L209.75,230.49 L210.00,230.49 L210.25,230.49 L210.50,230.49 L210.75,230.49 L211.00,230.49 L211.25,230.49 L211.50,230.49 L211.75,230.49 L212.00,230.49 L212.25,230.49 L212.50,230.49 L212.75,230.49 L213.00,230.48 L213.25,230.48 L213.50,230.46 L213.75,230.44 L214.00,230.38 L214.25,230.29 L214.50,230.15 L214.75,229.93 L215.00,229.63 L215.25,229.25 L215.50,228.80 L215.75,228.34 L216.00,227.91 L216.25,227.58 L216.50,227.42 L216.75,227.42 L217.00,227.57 L217.25,227.82 L217.50,228.16 L217.75,228.54 L218.00,228.93 L218.25,229.29 L218.50,229.61 L218.75,229.87 L219.00,230.07 L219.25,230.22 L219.50,230.33 L219.75,230.39 L220.00,230.44 L220.25,230.46 L220.50,230.48 L220.75,230.49 L221.00,230.49 L221.25,230.49 L221.50,230.49 L221.75,230.49 L222.00,230.49 L222.25,230.49 L222.50,230.49 L222.75,230.49 L223.00,230.49 L223.25,230.49 L223.50,230.50 L223.75,230.50 L224.00,230.50 L224.25,230.50 L224.50,230.50 L224.75,230.50 L225.00,230.50 L225.25,230.50 L225.50,230.50 L225.75,230.50 L226.00,230.50 L226.25,230.50 L226.50,230.50 L226.75,230.50 L227.00,230.50 L227.25,230.50 L227.50,230.50 L227.75,230.50 L228.00,230.50 L228.25,230.50 L228.50,230.50 L228.75,230.50 L229.00,230.50 L229.25,230.50 L229.50,230.50 L229.75,230.50 L230.00,230.50 L230.25,230.50 L230.50,230.50 L230.75,230.50 L231.00,230.50 L231.25,230.50 L231.50,230.50 L231.75,230.50"/>
<path d="M314.60,104.80 L314.85,104.80 L315.10,104.80 L315.35,104.80 L315.60,104.80 L315.85,104.80 L316.10,104.80 L316.35,104.80 L316.60,104.80 L316.85,104.80 L317.10,104.80 L317.35,104.80 L317.60,104.80 L317.85,104.80 L318.10,104.80 L318.35,104.80 L318.60,104.80 L318.85,104.80 L319.10,104.80 L319.35,104.80 L319.60,104.80 L319.85,104.80 L320.10,104.80 L320.35,104.80 L320.60,104.80 L320.85,104.80 L321.10,104.80 L321.35,104.80 L321.60,104.80 L321.85,104.80 L322.10,104.80 L322.35,104.80 L322.60,104.80 L322.85,106.22 L323.10,107.63 L323.35,107.45 L323.60,106.20 L323.85,105.19 L324.10,105.11 L324.35,105.04 L324.60,105.00 L324.85,105.01 L325.10,104.96 L325.35,104.70 L325.60,103.80 L325.85,101.29 L326.10,95.56 L326.35,84.98 L326.60,69.40 L326.85,51.88 L327.10,38.40 L327.35,34.98 L327.60,40.54 L327.85,50.91 L328.10,63.48 L328.35,75.54 L328.60,85.27 L328.85,92.10 L329.10,96.38 L329.35,98.85 L329.60,100.24 L329.85,101.06 L330.10,101.62 L330.35,102.06 L330.60,102.43 L330.85,102.77 L331.10,103.07 L331.35,103.34 L331.60,103.59 L331.85,103.82 L332.10,104.03 L332.35,104.22 L332.60,104.39 L332.85,104.55 L333.10,104.70 L333.35,104.84 L333.60,104.96 L333.85,105.08 L334.10,105.19 L334.35,105.29 L334.60,105.38 L334.85,105.47 L335.10,105.55 L335.35,105.62 L335.60,105.67 L335.85,105.66 L336.10,105.49 L336.35,104.95 L336.60,103.76 L336.85,101.70 L337.10,98.94 L337.35,96.21 L337.60,94.59 L337.85,94.63 L338.10,95.62 L338.35,97.25 L338.60,99.21 L338.85,101.18 L339.10,102.91 L339.35,104.26 L339.60,105.22 L339.85,105.84 L340.10,106.21 L340.35,106.41 L340.60,106.52 L340.85,106.58 L341.10,106.61 L341.35,106.64 L341.60,106.66 L341.85,106.67 L342.10,106.69 L342.35,106.71 L342.60,106.72 L342.85,106.74 L343.10,106.76 L343.35,106.77 L343.60,106.79 L343.85,106.80 L344.10,106.82 L344.35,106.83 L344.60,106.85 L344.85,106.86 L345.10,106.88 L345.35,106.89 L345.60,106.90 L345.85,106.87 L346.10,106.74 L346.35,106.28 L346.60,105.12 L346.85,102.85 L347.10,99.48 L347.35,95.88 L347.60,93.62 L347.85,93.64 L348.10,95.02 L348.35,97.27 L348.60,99.84 L348.85,102.24 L349.10,104.16 L349.35,105.49 L349.60,106.32 L349.85,106.78 L350.10,107.01 L350.35,107.12 L350.60,107.17 L350.85,107.20 L351.10,107.26 L351.35,107.31 L351.60,107.36 L351.85,107.40 L352.10,107.43 L352.35,107.38 L352.60,107.04 L352.85,106.00 L353.10,103.59 L353.35,99.32 L353.60,93.70 L353.85,88.64 L354.10,86.60 L354.35,87.80 L354.60,90.94 L354.85,95.12 L355.10,99.32 L355.35,102.81 L355.60,105.28 L355.85,106.81 L356.10,107.65 L356.35,108.07 L356.60,108.28 L356.85,108.38 L357.10,108.45 L357.35,108.51 L357.60,108.56 L357.85,108.61 L358.10,108.66 L358.35,108.71 L358.60,108.76 L358.85,108.81 L359.10,108.86 L359.35,108.90 L359.60,108.89 L359.85,108.88 L360.10,108.86 L360.35,108.85 L360.60,108.84 L360.85,108.83 L361.10,108.82 L361.35,108.81 L361.60,108.80 L361.85,108.79 L362.10,108.78 L362.35,108.77 L362.60,108.76 L362.85,108.74 L363.10,108.73 L363.35,108.72 L363.60,108.71 L363.85,108.70 L364.10,108.69 L364.35,108.68 L364.60,108.67 L364.85,108.66 L365.10,108.65 L365.35,108.64 L365.60,108.62 L365.85,108.61 L366.10,108.60 L366.35,108.59 L366.60,108.58 L366.85,108.57 L367.10,108.56 L367.35,108.55 L367.60,108.54 L367.85,108.53 L368.10,108.51 L368.35,108.50 L368.60,108.49 L368.85,108.48 L369.10,108.47 L369.35,108.46 L369.60,108.45 L369.85,108.44 L370.10,108.42 L370.35,108.41 L370.60,108.39 L370.85,108.37 L371.10,108.33 L371.35,108.29 L371.60,108.22 L371.85,108.14 L372.10,108.04 L372.35,107.92 L372.60,107.80 L372.85,107.70 L373.10,107.63 L373.35,107.60 L373.60,107.62 L373.85,107.68 L374.10,107.77 L374.35,107.87 L374.60,107.98 L374.85,108.08 L375.10,108.17 L375.35,108.23 L375.60,108.28 L375.85,108.31 L376.10,108.33 L376.35,108.35 L376.60,108.36 L376.85,108.36 L377.10,108.37 L377.35,108.37 L377.60,108.38 L377.85,108.38 L378.10,108.38 L378.35,108.39 L378.60,108.39 L378.85,108.40 L379.10,108.40 L379.35,108.41 L379.60,108.41 L379.85,108.41 L380.10,108.42 L380.35,108.42 L380.60,108.43 L380.85,108.43 L381.10,108.43 L381.35,108.44 L381.60,108.44 L381.85,108.45 L382.10,108.45 L382.35,108.46 L382.60,108.46 L382.85,108.46 L383.10,108.47 L383.35,108.47 L383.60,108.48 L383.85,108.48 L384.10,108.48 L384.35,108.49 L384.60,108.49 L384.85,108.50 L385.10,108.50 L385.35,108.49 L385.60,108.49 L385.85,108.49 L386.10,108.48 L386.35,108.48 L386.60,108.48 L386.85,108.47 L387.10,108.47 L387.35,108.46 L387.60,108.46 L387.85,108.46 L388.10,108.45 L388.35,108.45 L388.60,108.45 L388.85,108.44 L389.10,108.44 L389.35,108.43 L389.60,108.43 L389.85,108.43 L390.10,108.42 L390.35,108.42 L390.60,108.42 L390.85,108.41 L391.10,108.41 L391.35,108.40 L391.60,108.40 L391.85,108.40 L392.10,108.39 L392.35,108.39 L392.60,108.39 L392.85,108.38 L393.10,108.38 L393.35,108.37 L393.60,108.37 L393.85,108.37 L394.10,108.36 L394.35,108.36 L394.60,108.36 L394.85,108.35 L395.10,108.35 L395.35,108.34 L395.60,108.34 L395.85,108.34 L396.10,108.33 L396.35,108.33 L396.60,108.32 L396.85,108.30 L397.10,108.25 L397.35,108.10 L397.60,107.78 L397.85,107.20 L398.10,106.33 L398.35,105.36 L398.60,104.61 L398.85,104.41 L399.10,104.74 L399.35,105.43 L399.60,106.25 L399.85,107.01 L400.10,107.58 L400.35,107.93 L400.60,108.12 L400.85,108.21 L401.10,108.24 L401.35,108.25 L401.60,108.25 L401.85,108.25 L402.10,108.24 L402.35,108.24 L402.60,108.24 L402.85,108.23 L403.10,108.23 L403.35,108.22 L403.60,108.22 L403.85,108.22 L404.10,108.21 L404.35,108.21 L404.60,108.21 L404.85,108.20 L405.10,108.20 L405.35,108.19 L405.60,108.19 L405.85,108.18 L406.10,108.18 L406.35,108.17 L406.60,108.17 L406.85,108.16 L407.10,108.16 L407.35,108.15 L407.60,108.15 L407.85,108.14 L408.10,108.14 L408.35,108.13 L408.60,108.13 L408.85,108.12 L409.10,108.12 L409.35,108.11 L409.60,108.11 L409.85,108.10 L410.10,108.09 L410.35,108.05 L410.60,107.94 L410.85,107.71 L411.10,107.27 L411.35,106.58 L411.60,105.77 L411.85,105.08 L412.10,104.80 L412.35,105.04 L412.60,105.43 L412.85,105.89 L413.10,106.35 L413.35,106.76 L413.60,107.08 L413.85,107.30 L414.10,107.45 L414.35,107.55 L414.60,107.62 L414.85,107.67 L415.10,107.71 L415.35,107.74 L415.60,107.76 L415.85,107.78 L416.10,107.80 L416.35,107.82 L416.60,107.83 L416.85,107.84 L417.10,107.85 L417.35,107.86 L417.60,107.86 L417.85,107.87 L418.10,107.87 L418.35,107.88 L418.60,107.88 L418.85,107.88 L419.10,107.88 L419.35,107.88 L419.60,107.88 L419.85,107.88 L420.10,107.88 L420.35,107.88 L420.60,107.88 L420.85,107.88 L421.10,107.89 L421.35,107.89 L421.60,107.89 L421.85,107.89 L422.10,107.89 L422.35,107.89 L422.60,107.89 L422.85,107.89 L423.10,107.89 L423.35,107.90 L423.60,107.90 L423.85,107.90 L424.10,107.90 L424.35,107.90 L424.60,107.90 L424.85,107.90 L425.10,107.90 L425.35,107.90 L425.60,107.90 L425.85,107.90 L426.10,107.90 L426.35,107.90 L426.60,107.90 L426.85,107.90 L427.10,107.90 L427.35,107.90 L427.60,107.90 L427.85,107.90 L428.10,107.90 L428.35,107.90 L428.60,107.90 L428.85,107.90 L429.10,107.90 L429.35,107.90 L429.60,107.90 L429.85,107.90 L430.10,107.89 L430.35,107.88 L430.60,107.86 L430.85,107.84 L431.10,107.83 L431.35,107.81 L431.60,107.79 L431.85,107.78 L432.10,107.76 L432.35,107.74 L432.60,107.73 L432.85,107.71 L433.10,107.69 L433.35,107.68 L433.60,107.66 L433.85,107.64 L434.10,107.63 L434.35,107.61 L434.60,107.59 L434.85,107.58 L435.10,107.56 L435.35,107.54 L435.60,107.53 L435.85,107.51 L436.10,107.49 L436.35,107.48 L436.60,107.46 L436.85,107.44 L437.10,107.43 L437.35,107.41 L437.60,107.39 L437.85,107.38 L438.10,107.36 L438.35,107.34 L438.60,107.33 L438.85,107.31 L439.10,107.29 L439.35,107.28 L439.60,107.26 L439.85,107.24 L440.10,107.23 L440.35,107.21 L440.60,107.19 L440.85,107.18 L441.10,107.16 L441.35,107.14 L441.60,107.13 L441.85,107.11 L442.10,107.09 L442.35,107.08 L442.60,107.06 L442.85,107.04 L443.10,107.03 L443.35,107.01 L443.60,106.99 L443.85,106.98 L444.10,106.96 L444.35,106.94 L444.60,106.93 L444.85,106.91 L445.10,106.90 L445.35,106.89 L445.60,106.89 L445.85,106.89 L446.10,106.88 L446.35,106.88 L446.60,106.88 L446.85,106.87 L447.10,106.87 L447.35,106.86 L447.60,106.85 L447.85,106.81 L448.10,106.67 L448.35,106.28 L448.60,105.42 L448.85,103.84 L449.10,101.51 L449.35,98.89 L449.60,96.87 L449.85,96.33 L450.10,97.22 L450.35,99.09 L450.60,101.34 L450.85,103.40 L451.10,104.94 L451.35,105.90 L451.60,106.42 L451.85,106.66 L452.10,106.66 L452.35,97.38 L452.60,62.93 L452.85,40.74 L453.10,35.21 L453.35,34.48 L453.60,34.43 L453.85,34.40 L454.10,34.38 L454.35,34.37 L454.60,34.53 L454.85,36.46 L455.10,47.09 L455.35,76.72 L455.60,103.44 L455.85,106.47 L456.10,106.46 L456.35,106.44 L456.60,106.42 L456.85,106.40 L457.10,106.37 L457.35,106.35 L457.60,106.33 L457.85,106.31 L458.10,106.29 L458.35,106.29 L458.60,106.28 L458.85,106.24 L459.10,106.19 L459.35,106.09 L459.60,105.95 L459.85,105.75 L460.10,105.50 L460.35,105.21 L460.60,104.92 L460.85,104.66 L461.10,104.48 L461.35,104.40 L461.60,104.43 L461.85,104.55 L462.10,104.73 L462.35,104.96 L462.60,105.21 L462.85,105.46 L463.10,105.70 L463.35,105.90 L463.60,106.07 L463.85,106.20 L464.10,106.29 L464.35,106.36 L464.60,106.41 L464.85,106.44 L465.10,106.46 L465.35,106.47 L465.60,106.48 L465.85,106.49 L466.10,106.49 L466.35,106.46 L466.60,106.39 L466.85,106.23 L467.10,105.88 L467.35,105.22 L467.60,104.08 L467.85,102.37 L468.10,100.09 L468.35,97.48 L468.60,94.98 L468.85,93.17 L469.10,92.50 L469.35,92.93 L469.60,94.14 L469.85,95.93 L470.10,98.00 L470.35,100.08 L470.60,101.94 L470.85,103.45 L471.10,104.58 L471.35,105.36 L471.60,105.86 L471.85,106.16 L472.10,106.32 L472.35,106.40 L472.60,106.44 L472.85,106.46 L473.10,106.46 L473.35,106.47 L473.60,106.47 L473.85,106.47 L474.10,106.46 L474.35,106.46 L474.60,106.46 L474.85,106.46 L475.10,106.46 L475.35,106.46 L475.60,106.46 L475.85,106.46 L476.10,106.46 L476.35,106.45 L476.60,106.45 L476.85,106.45 L477.10,106.45 L477.35,106.45 L477.60,106.45 L477.85,106.45 L478.10,106.45 L478.35,106.45 L478.60,106.45 L478.85,106.44 L479.10,106.44 L479.35,106.44 L479.60,106.44 L479.85,106.44 L480.10,106.44 L480.35,106.44 L480.60,106.44 L480.85,106.44 L481.10,106.43 L481.35,106.43 L481.60,106.43 L481.85,106.43 L482.10,106.43 L482.35,106.43 L482.60,106.43 L482.85,106.43 L483.10,106.43 L483.35,106.42 L483.60,106.42 L483.85,106.42 L484.10,106.42 L484.35,106.42 L484.60,106.42 L484.85,106.42 L485.10,106.42 L485.35,106.42 L485.60,106.41 L485.85,106.41 L486.10,106.41 L486.35,106.41 L486.60,106.41 L486.85,106.41 L487.10,106.41 L487.35,106.41 L487.60,106.41 L487.85,106.40 L488.10,106.40 L488.35,106.40 L488.60,106.40 L488.85,106.40 L489.10,106.40 L489.35,106.40 L489.60,106.40 L489.85,106.40 L490.10,106.40 L490.35,106.39 L490.60,106.39 L490.85,106.39 L491.10,106.39 L491.35,106.38 L491.60,106.37 L491.85,106.35 L492.10,106.30 L492.35,106.22 L492.60,106.06 L492.85,105.80 L493.10,105.38 L493.35,104.79 L493.60,103.99 L493.85,103.00 L494.10,101.91 L494.35,100.81 L494.60,99.87 L494.85,99.23 L495.10,99.00 L495.35,99.16 L495.60,99.61 L495.85,100.30 L496.10,101.16 L496.35,102.08 L496.60,102.99 L496.85,103.82 L497.10,104.53 L497.35,105.09 L497.60,105.52 L497.85,105.83 L498.10,106.04 L498.35,106.17 L498.60,106.25 L498.85,106.30 L499.10,106.33 L499.35,106.34 L499.60,106.35 L499.85,106.35 L500.10,106.35 L500.35,106.35 L500.60,106.35 L500.85,106.35 L501.10,106.35 L501.35,106.35 L501.60,106.35 L501.85,106.34 L502.10,106.34 L502.35,106.34 L502.60,106.34 L502.85,106.34 L503.10,106.34 L503.35,106.34 L503.60,106.34 L503.85,106.34 L504.10,106.33 L504.35,106.33 L504.60,106.33 L504.85,106.33 L505.10,106.33 L505.35,106.33 L505.60,106.33 L505.85,106.33 L506.10,106.33 L506.35,106.32 L506.60,106.32 L506.85,106.32 L507.10,106.32 L507.35,106.32 L507.60,106.32 L507.85,106.32 L508.10,106.32 L508.35,106.32 L508.60,106.31 L508.85,106.31 L509.10,106.31 L509.35,106.31 L509.60,106.31 L509.85,106.31 L510.10,106.31 L510.35,106.31 L510.60,106.31 L510.85,106.30"/>
<path d="M314.60,193.29 L314.85,193.29 L315.10,193.29 L315.35,193.29 L315.60,193.28 L315.85,193.28 L316.10,193.28 L316.35,193.28 L316.60,193.27 L316.85,193.27 L317.10,193.27 L317.35,193.27 L317.60,193.26 L317.85,193.26 L318.10,193.26 L318.35,193.26 L318.60,193.25 L318.85,193.25 L319.10,193.25 L319.35,193.25 L319.60,193.24 L319.85,193.24 L320.10,193.24 L320.35,193.24 L320.60,193.23 L320.85,193.23 L321.10,193.23 L321.35,193.23 L321.60,193.22 L321.85,193.22 L322.10,193.22 L322.35,193.22 L322.60,193.21 L322.85,193.21 L323.10,193.20 L323.35,193.18 L323.60,193.11 L323.85,192.93 L324.10,192.51 L324.35,191.78 L324.60,190.83 L324.85,189.90 L325.10,189.25 L325.35,189.04 L325.60,188.86 L325.85,187.21 L326.10,182.60 L326.35,175.79 L326.60,170.71 L326.85,171.07 L327.10,175.97 L327.35,182.31 L327.60,187.23 L327.85,189.87 L328.10,190.84 L328.35,190.92 L328.60,190.39 L328.85,188.99 L329.10,186.37 L329.35,182.78 L329.60,179.61 L329.85,178.67 L330.10,179.66 L330.35,181.44 L330.60,183.50 L330.85,185.37 L331.10,186.77 L331.35,187.66 L331.60,188.15 L331.85,188.38 L332.10,188.54 L332.35,188.74 L332.60,188.90 L332.85,189.05 L333.10,189.19 L333.35,189.32 L333.60,189.43 L333.85,189.55 L334.10,189.65 L334.35,189.75 L334.60,189.85 L334.85,189.94 L335.10,190.03 L335.35,190.11 L335.60,190.19 L335.85,190.27 L336.10,190.35 L336.35,190.42 L336.60,190.49 L336.85,190.56 L337.10,190.63 L337.35,190.70 L337.60,190.77 L337.85,190.84 L338.10,190.90 L338.35,190.97 L338.60,191.03 L338.85,191.09 L339.10,191.16 L339.35,191.22 L339.60,191.28 L339.85,191.34 L340.10,191.38 L340.35,191.39 L340.60,191.40 L340.85,191.41 L341.10,191.41 L341.35,191.42 L341.60,191.42 L341.85,191.42 L342.10,191.41 L342.35,191.38 L342.60,191.30 L342.85,191.17 L343.10,190.94 L343.35,190.61 L343.60,190.20 L343.85,189.76 L344.10,189.37 L344.35,189.14 L344.60,189.15 L344.85,189.62 L345.10,190.34 L345.35,190.94 L345.60,191.30 L345.85,191.45 L346.10,191.51 L346.35,191.44 L346.60,182.98 L346.85,158.21 L347.10,146.30 L347.35,144.16 L347.60,144.00 L347.85,144.00 L348.10,144.00 L348.35,144.01 L348.60,144.08 L348.85,145.09 L349.10,151.85 L349.35,172.74 L349.60,190.30 L349.85,191.60 L350.10,191.61 L350.35,191.63 L350.60,191.66 L350.85,191.68 L351.10,191.71 L351.35,191.73 L351.60,191.76 L351.85,191.78 L352.10,191.81 L352.35,191.83 L352.60,191.86 L352.85,191.88 L353.10,191.90 L353.35,191.88 L353.60,191.74 L353.85,191.33 L354.10,190.52 L354.35,189.38 L354.60,188.39 L354.85,188.12 L355.10,188.48 L355.35,189.21 L355.60,190.09 L355.85,190.89 L356.10,191.50 L356.35,191.89 L356.60,192.11 L356.85,192.23 L357.10,192.28 L357.35,192.29 L357.60,192.29 L357.85,192.29 L358.10,192.29 L358.35,192.28 L358.60,192.28 L358.85,192.28 L359.10,192.28 L359.35,192.27 L359.60,192.27 L359.85,192.27 L360.10,192.27 L360.35,192.26 L360.60,192.26 L360.85,192.26 L361.10,192.25 L361.35,192.25 L361.60,192.25 L361.85,192.25 L362.10,192.24 L362.35,192.24 L362.60,192.24 L362.85,192.23 L363.10,192.23 L363.35,192.23 L363.60,192.23 L363.85,192.22 L364.10,192.22 L364.35,192.22 L364.60,192.22 L364.85,192.21 L365.10,192.21 L365.35,192.21 L365.60,192.20 L365.85,192.20 L366.10,192.20 L366.35,192.20 L366.60,192.19 L366.85,192.19 L367.10,192.19 L367.35,192.18 L367.60,192.18 L367.85,192.18 L368.10,192.18 L368.35,192.17 L368.60,192.17 L368.85,192.17 L369.10,192.17 L369.35,192.16 L369.60,192.16 L369.85,192.16 L370.10,192.15 L370.35,192.15 L370.60,192.15 L370.85,192.15 L371.10,192.14 L371.35,192.14 L371.60,192.14 L371.85,192.13 L372.10,192.13 L372.35,192.13 L372.60,192.13 L372.85,192.12 L373.10,192.12 L373.35,192.12 L373.60,192.12 L373.85,192.11 L374.10,192.11 L374.35,192.11 L374.60,192.10 L374.85,192.10 L375.10,192.10 L375.35,192.10 L375.60,192.10 L375.85,192.10 L376.10,192.10 L376.35,192.10 L376.60,192.10 L376.85,192.10 L377.10,192.10 L377.35,192.10 L377.60,192.10 L377.85,192.10 L378.10,192.10 L378.35,192.09 L378.60,192.08 L378.85,192.06 L379.10,192.02 L379.35,191.95 L379.60,191.85 L379.85,191.72 L380.10,191.54 L380.35,191.33 L380.60,191.10 L380.85,190.89 L381.10,190.72 L381.35,190.62 L381.60,190.61 L381.85,190.69 L382.10,190.85 L382.35,191.05 L382.60,191.28 L382.85,191.50 L383.10,191.68 L383.35,191.83 L383.60,191.93 L383.85,192.01 L384.10,192.05 L384.35,192.07 L384.60,192.09 L384.85,192.09 L385.10,192.10 L385.35,192.10 L385.60,192.10 L385.85,192.10 L386.10,192.10 L386.35,192.10 L386.60,192.10 L386.85,192.10 L387.10,192.10 L387.35,192.10 L387.60,192.10 L387.85,192.10 L388.10,192.10 L388.35,192.10 L388.60,192.10 L388.85,192.10 L389.10,192.10 L389.35,192.10 L389.60,192.10 L389.85,192.10 L390.10,192.10 L390.35,192.10 L390.60,192.10 L390.85,192.10 L391.10,192.10 L391.35,192.10 L391.60,192.10 L391.85,192.10 L392.10,192.10 L392.35,192.10 L392.60,192.10 L392.85,192.10 L393.10,192.10 L393.35,192.10 L393.60,192.10 L393.85,192.10 L394.10,192.10 L394.35,192.10 L394.60,192.10 L394.85,192.10 L395.10,192.10 L395.35,192.10 L395.60,192.10 L395.85,192.10 L396.10,192.10 L396.35,192.10 L396.60,192.10 L396.85,192.10 L397.10,192.10 L397.35,192.10 L397.60,192.10 L397.85,192.10 L398.10,192.10 L398.35,192.10 L398.60,192.10 L398.85,192.10 L399.10,192.10 L399.35,192.10 L399.60,192.10 L399.85,192.10 L400.10,192.09 L400.35,192.07 L400.60,192.05 L400.85,192.03 L401.10,192.01 L401.35,191.99 L401.60,191.97 L401.85,191.95 L402.10,191.93 L402.35,191.91 L402.60,191.89 L402.85,191.87 L403.10,191.85 L403.35,191.83 L403.60,191.81 L403.85,191.79 L404.10,191.77 L404.35,191.75 L404.60,191.73 L404.85,191.71 L405.10,191.69 L405.35,191.67 L405.60,191.65 L405.85,191.63 L406.10,191.61 L406.35,191.59 L406.60,191.57 L406.85,191.55 L407.10,191.53 L407.35,191.51 L407.60,191.49 L407.85,191.47 L408.10,191.45 L408.35,191.43 L408.60,191.41 L408.85,191.39 L409.10,191.37 L409.35,191.35 L409.60,191.33 L409.85,191.31 L410.10,191.30 L410.35,191.30 L410.60,191.30 L410.85,191.30 L411.10,191.30 L411.35,191.30 L411.60,191.30 L411.85,191.30 L412.10,191.30 L412.35,191.30 L412.60,191.29 L412.85,191.27 L413.10,191.22 L413.35,191.09 L413.60,190.85 L413.85,190.48 L414.10,190.03 L414.35,189.65 L414.60,189.50 L414.85,189.65 L415.10,190.03 L415.35,190.48 L415.60,190.85 L415.85,191.09 L416.10,191.22 L416.35,191.27 L416.60,191.29 L416.85,191.30 L417.10,191.30 L417.35,191.30 L417.60,191.30 L417.85,191.30 L418.10,191.30 L418.35,191.30 L418.60,191.30 L418.85,191.30 L419.10,191.30 L419.35,191.30 L419.60,191.30 L419.85,191.30 L420.10,191.30 L420.35,191.30 L420.60,191.30 L420.85,191.30 L421.10,191.30 L421.35,191.30 L421.60,191.30 L421.85,191.30 L422.10,191.30 L422.35,191.30 L422.60,191.30 L422.85,191.30 L423.10,191.30 L423.35,191.30 L423.60,191.30 L423.85,191.30 L424.10,191.30 L424.35,191.30 L424.60,191.30 L424.85,191.30 L425.10,191.30 L425.35,191.30 L425.60,191.30 L425.85,191.30 L426.10,191.30 L426.35,191.30 L426.60,191.30 L426.85,191.30 L427.10,191.30 L427.35,191.30 L427.60,191.30 L427.85,191.30 L428.10,191.30 L428.35,191.30 L428.60,191.30 L428.85,191.30 L429.10,191.30 L429.35,191.30 L429.60,191.30 L429.85,191.30 L430.10,191.30 L430.35,191.30 L430.60,191.30 L430.85,191.30 L431.10,191.30 L431.35,191.30 L431.60,191.30 L431.85,191.30 L432.10,191.30 L432.35,191.30 L432.60,191.30 L432.85,191.30 L433.10,191.30 L433.35,191.30 L433.60,191.30 L433.85,191.30 L434.10,191.30 L434.35,191.30 L434.60,191.30 L434.85,191.30 L435.10,191.30 L435.35,191.30 L435.60,191.30 L435.85,191.30 L436.10,191.30 L436.35,191.30 L436.60,191.30 L436.85,191.30 L437.10,191.30 L437.35,191.30 L437.60,191.30 L437.85,191.30 L438.10,191.30 L438.35,191.30 L438.60,191.30 L438.85,191.30 L439.10,191.30 L439.35,191.30 L439.60,191.30 L439.85,191.30 L440.10,191.30 L440.35,191.30 L440.60,191.30 L440.85,191.30 L441.10,191.30 L441.35,191.30 L441.60,191.30 L441.85,191.30 L442.10,191.30 L442.35,191.30 L442.60,191.30 L442.85,191.30 L443.10,191.30 L443.35,191.30 L443.60,191.30 L443.85,191.30 L444.10,191.30 L444.35,191.30 L444.60,191.30 L444.85,191.30 L445.10,191.30 L445.35,191.30 L445.60,191.30 L445.85,191.30 L446.10,191.30 L446.35,191.30 L446.60,191.30 L446.85,191.30 L447.10,191.30 L447.35,191.30 L447.60,191.30 L447.85,191.30 L448.10,191.30 L448.35,191.30 L448.60,191.30 L448.85,191.30 L449.10,191.30 L449.35,191.30 L449.60,191.30 L449.85,191.30 L450.10,191.30 L450.35,191.29 L450.60,191.28 L450.85,191.27 L451.10,191.26 L451.35,191.24 L451.60,191.23 L451.85,191.22 L452.10,191.19 L452.35,191.15 L452.60,191.07 L452.85,190.94 L453.10,190.74 L453.35,190.48 L453.60,190.17 L453.85,189.86 L454.10,189.62 L454.35,189.51 L454.60,189.54 L454.85,189.72 L455.10,189.99 L455.35,190.28 L455.60,190.55 L455.85,190.75 L456.10,190.89 L456.35,190.96 L456.60,191.00 L456.85,191.01 L457.10,191.01 L457.35,191.00 L457.60,191.00 L457.85,190.99 L458.10,190.98 L458.35,190.97 L458.60,190.96 L458.85,190.95 L459.10,190.94 L459.35,190.93 L459.60,190.92 L459.85,190.91 L460.10,190.90 L460.35,190.89 L460.60,190.88 L460.85,190.87 L461.10,190.86 L461.35,190.85 L461.60,190.84 L461.85,190.83 L462.10,190.82 L462.35,190.81 L462.60,190.80 L462.85,190.79 L463.10,190.78 L463.35,190.77 L463.60,190.76 L463.85,190.75 L464.10,190.74 L464.35,190.73 L464.60,190.72 L464.85,190.71 L465.10,190.70 L465.35,190.69 L465.60,190.69 L465.85,190.68 L466.10,190.68 L466.35,190.67 L466.60,190.66 L466.85,190.65 L467.10,190.62 L467.35,190.57 L467.60,190.46 L467.85,190.29 L468.10,190.02 L468.35,189.66 L468.60,189.23 L468.85,188.80 L469.10,188.46 L469.35,188.31 L469.60,188.34 L469.85,188.51 L470.10,188.79 L470.35,189.12 L470.60,189.46 L470.85,189.77 L471.10,190.03 L471.35,190.23 L471.60,190.36 L471.85,190.45 L472.10,190.50 L472.35,190.52 L472.60,190.53 L472.85,190.54 L473.10,190.54 L473.35,190.53 L473.60,190.53 L473.85,190.52 L474.10,190.52 L474.35,190.51 L474.60,190.51 L474.85,190.50 L475.10,190.50 L475.35,190.49 L475.60,190.49 L475.85,190.48 L476.10,190.48 L476.35,190.47 L476.60,190.47 L476.85,190.46 L477.10,190.46 L477.35,190.45 L477.60,190.45 L477.85,190.44 L478.10,190.44 L478.35,190.43 L478.60,190.43 L478.85,190.42 L479.10,190.42 L479.35,190.41 L479.60,190.41 L479.85,190.40 L480.10,190.40 L480.35,190.40 L480.60,190.40 L480.85,190.40 L481.10,190.39 L481.35,190.39 L481.60,190.39 L481.85,190.39 L482.10,190.39 L482.35,190.39 L482.60,190.39 L482.85,190.39 L483.10,190.38 L483.35,190.38 L483.60,190.38 L483.85,190.38 L484.10,190.38 L484.35,190.38 L484.60,190.38 L484.85,190.38 L485.10,190.37 L485.35,190.37 L485.60,190.37 L485.85,190.37 L486.10,190.37 L486.35,190.37 L486.60,190.37 L486.85,190.37 L487.10,190.36 L487.35,190.36 L487.60,190.36 L487.85,190.36 L488.10,190.36 L488.35,190.36 L488.60,190.36 L488.85,190.36 L489.10,190.35 L489.35,190.35 L489.60,190.35 L489.85,190.35 L490.10,190.35 L490.35,190.35 L490.60,190.35 L490.85,190.35 L491.10,190.34 L491.35,190.34 L491.60,190.34 L491.85,190.34 L492.10,190.34 L492.35,190.33 L492.60,190.29 L492.85,190.20 L493.10,189.95 L493.35,189.36 L493.60,188.10 L493.85,185.70 L494.10,181.58 L494.35,175.36 L494.60,167.10 L494.85,157.64 L495.10,148.60 L495.35,142.02 L495.60,139.60 L495.85,141.52 L496.10,146.85 L496.35,154.48 L496.60,162.96 L496.85,170.98 L497.10,177.67 L497.35,182.65 L497.60,186.02 L497.85,188.08 L498.10,189.24 L498.35,189.83 L498.60,190.11 L498.85,190.23 L499.10,190.28 L499.35,190.29 L499.60,190.30 L499.85,190.30 L500.10,190.29 L500.35,190.28 L500.60,190.26 L500.85,190.24 L501.10,190.22 L501.35,190.19 L501.60,190.15 L501.85,190.08 L502.10,189.98 L502.35,189.85 L502.60,189.66 L502.85,189.43 L503.10,189.16 L503.35,188.88 L503.60,188.62 L503.85,188.42 L504.10,188.31 L504.35,188.31 L504.60,188.41 L504.85,188.60 L505.10,188.83 L505.35,189.08 L505.60,189.31 L505.85,189.51 L506.10,189.66 L506.35,189.76 L506.60,189.82 L506.85,189.85 L507.10,189.86 L507.35,189.86 L507.60,189.85 L507.85,189.84 L508.10,189.83 L508.35,189.81 L508.60,189.80 L508.85,189.78 L509.10,189.77 L509.35,189.75 L509.60,189.74 L509.85,189.73 L510.10,189.71 L510.35,189.70 L510.60,189.68 L510.85,189.67"/>
<path d="M314.60,225.40 L314.85,225.51 L315.10,225.77 L315.35,226.07 L315.60,226.33 L315.85,226.50 L316.10,226.59 L316.35,226.63 L316.60,226.65 L316.85,226.66 L317.10,226.66 L317.35,226.67 L317.60,226.67 L317.85,226.68 L318.10,226.68 L318.35,226.69 L318.60,226.69 L318.85,226.70 L319.10,226.70 L319.35,226.71 L319.60,226.71 L319.85,226.72 L320.10,226.72 L320.35,226.73 L320.60,226.73 L320.85,226.74 L321.10,226.74 L321.35,226.75 L321.60,226.76 L321.85,226.76 L322.00,226.80 L323.60,226.70 L324.00,225.40 L324.40,230.80 L325.50,231.10 L326.40,230.90 L326.75,208.20 L327.10,230.90 L328.00,231.10 L328.80,230.70 L329.35,219.20 L329.90,221.60 L330.60,224.30 L331.30,225.60 L332.00,226.20 L332.10,226.10 L332.35,226.18 L332.60,226.24 L332.85,226.29 L333.10,226.33 L333.35,226.36 L333.60,226.39 L333.85,226.41 L334.10,226.43 L334.35,226.44 L334.60,226.45 L334.85,226.46 L335.10,226.47 L335.35,226.48 L335.60,226.48 L335.85,226.49 L336.10,226.49 L336.35,226.49 L336.60,226.50 L336.85,226.50 L337.10,226.50 L337.35,226.50 L337.60,226.50 L337.85,226.50 L338.10,226.51 L338.35,226.51 L338.60,226.51 L338.85,226.51 L339.10,226.51 L339.35,226.51 L339.60,226.51 L339.85,226.51 L340.10,226.51 L340.35,226.51 L340.60,226.51 L340.85,226.51 L341.10,226.51 L341.35,226.51 L341.60,226.51 L341.85,226.51 L342.10,226.51 L342.35,226.51 L342.60,226.51 L342.85,226.51 L343.10,226.51 L343.35,226.51 L343.60,226.52 L343.85,226.52 L344.10,226.52 L344.35,226.52 L344.60,226.52 L344.85,226.52 L345.10,226.52 L345.35,226.52 L345.60,226.51 L345.85,226.50 L346.10,226.44 L346.35,226.29 L346.60,225.95 L346.85,225.31 L347.10,224.38 L347.35,223.33 L347.60,222.53 L347.85,222.31 L348.10,222.59 L348.35,223.19 L348.60,223.96 L348.85,224.74 L349.10,225.39 L349.35,225.88 L349.60,226.19 L349.85,226.36 L350.10,226.46 L350.35,226.50 L350.60,226.51 L350.85,226.52 L351.10,226.52 L351.35,226.52 L351.60,226.52 L351.85,226.53 L352.10,226.53 L352.35,226.53 L352.60,226.53 L352.85,226.53 L353.10,226.53 L353.35,226.53 L353.60,226.53 L353.85,226.53 L354.10,226.53 L354.35,226.53 L354.60,226.53 L354.85,226.53 L355.10,226.53 L355.35,226.53 L355.60,226.53 L355.85,226.53 L356.10,226.53 L356.35,226.53 L356.60,226.53 L356.85,226.53 L357.10,226.53 L357.35,226.53 L357.60,226.53 L357.85,226.53 L358.10,226.53 L358.35,226.53 L358.60,226.53 L358.85,226.53 L359.10,226.53 L359.35,226.53 L359.60,226.53 L359.85,226.54 L360.10,226.54 L360.35,226.54 L360.60,226.54 L360.85,226.54 L361.10,226.54 L361.35,226.54 L361.60,226.54 L361.85,226.54 L362.10,226.54 L362.35,226.54 L362.60,226.54 L362.85,226.54 L363.10,226.54 L363.35,226.54 L363.60,226.54 L363.85,226.54 L364.10,226.54 L364.35,226.54 L364.60,226.54 L364.85,226.54 L365.10,226.54 L365.35,226.54 L365.60,226.54 L365.85,226.54 L366.10,226.54 L366.35,226.54 L366.60,226.54 L366.85,226.54 L367.10,226.54 L367.35,226.54 L367.60,226.54 L367.85,226.55 L368.10,226.55 L368.35,226.55 L368.60,226.55 L368.85,226.55 L369.10,226.55 L369.35,226.55 L369.60,226.55 L369.85,226.55 L370.10,226.55 L370.35,226.55 L370.60,226.55 L370.85,226.55 L371.10,226.55 L371.35,226.55 L371.60,226.55 L371.85,226.55 L372.10,226.55 L372.35,226.55 L372.60,226.55 L372.85,226.55 L373.10,226.55 L373.35,226.55 L373.60,226.55 L373.85,226.55 L374.10,226.55 L374.35,226.55 L374.60,226.55 L374.85,226.55 L375.10,226.55 L375.35,226.55 L375.60,226.55 L375.85,226.56 L376.10,226.56 L376.35,226.56 L376.60,226.56 L376.85,226.56 L377.10,226.56 L377.35,226.56 L377.60,226.56 L377.85,226.56 L378.10,226.56 L378.35,226.56 L378.60,226.56 L378.85,226.56 L379.10,226.56 L379.35,226.56 L379.60,226.56 L379.85,226.56 L380.10,226.56 L380.35,226.56 L380.60,226.56 L380.85,226.56 L381.10,226.56 L381.35,226.56 L381.60,226.56 L381.85,226.56 L382.10,226.56 L382.35,226.56 L382.60,226.56 L382.85,226.56 L383.10,226.56 L383.35,226.56 L383.60,226.56 L383.85,226.57 L384.10,226.57 L384.35,226.57 L384.60,226.57 L384.85,226.57 L385.10,226.57 L385.35,226.57 L385.60,226.57 L385.85,226.57 L386.10,226.57 L386.35,226.57 L386.60,226.57 L386.85,226.57 L387.10,226.57 L387.35,226.57 L387.60,226.57 L387.85,226.57 L388.10,226.57 L388.35,226.57 L388.60,226.57 L388.85,226.57 L389.10,226.57 L389.35,226.57 L389.60,226.57 L389.85,226.57 L390.10,226.57 L390.35,226.57 L390.60,226.57 L390.85,226.57 L391.10,226.57 L391.35,226.57 L391.60,226.57 L391.85,226.57 L392.10,226.58 L392.35,226.58 L392.60,226.58 L392.85,226.58 L393.10,226.58 L393.35,226.58 L393.60,226.58 L393.85,226.58 L394.10,226.58 L394.35,226.58 L394.60,226.58 L394.85,226.58 L395.10,226.58 L395.35,226.58 L395.60,226.58 L395.85,226.58 L396.10,226.58 L396.35,226.58 L396.60,226.58 L396.85,226.58 L397.10,226.58 L397.35,226.58 L397.60,226.58 L397.85,226.58 L398.10,226.58 L398.35,226.58 L398.60,226.58 L398.85,226.58 L399.10,226.58 L399.35,226.58 L399.60,226.58 L399.85,226.58 L400.10,226.59 L400.35,226.59 L400.60,226.59 L400.85,226.59 L401.10,226.59 L401.35,226.59 L401.60,226.59 L401.85,226.59 L402.10,226.59 L402.35,226.59 L402.60,226.59 L402.85,226.59 L403.10,226.59 L403.35,226.59 L403.60,226.59 L403.85,226.59 L404.10,226.59 L404.35,226.59 L404.60,226.59 L404.85,226.59 L405.10,226.59 L405.35,226.59 L405.60,226.59 L405.85,226.59 L406.10,226.59 L406.35,226.59 L406.60,226.59 L406.85,226.59 L407.10,226.59 L407.35,226.59 L407.60,226.59 L407.85,226.59 L408.10,226.60 L408.35,226.60 L408.60,226.60 L408.85,226.60 L409.10,226.60 L409.35,226.60 L409.60,226.60 L409.85,226.60 L410.10,226.60 L410.35,226.60 L410.60,226.60 L410.85,226.60 L411.10,226.60 L411.35,226.60 L411.60,226.60 L411.85,226.60 L412.10,226.60 L412.35,226.60 L412.60,226.59 L412.85,226.59 L413.10,226.59 L413.35,226.59 L413.60,226.58 L413.85,226.58 L414.10,226.58 L414.35,226.58 L414.60,226.57 L414.85,226.57 L415.10,226.57 L415.35,226.56 L415.60,226.56 L415.85,226.55 L416.10,226.53 L416.35,226.49 L416.60,226.43 L416.85,226.33 L417.10,226.18 L417.35,226.01 L417.60,225.84 L417.85,225.69 L418.10,225.61 L418.35,225.61 L418.60,225.71 L418.85,225.86 L419.10,226.03 L419.35,226.19 L419.60,226.32 L419.85,226.41 L420.10,226.46 L420.35,226.49 L420.60,226.50 L420.85,226.51 L421.10,226.51 L421.35,226.51 L421.60,226.50 L421.85,226.50 L422.10,226.50 L422.35,226.50 L422.60,226.49 L422.85,226.49 L423.10,226.49 L423.35,226.49 L423.60,226.48 L423.85,226.48 L424.10,226.48 L424.35,226.48 L424.60,226.47 L424.85,226.47 L425.10,226.47 L425.35,226.47 L425.60,226.46 L425.85,226.46 L426.10,226.46 L426.35,226.46 L426.60,226.45 L426.85,226.45 L427.10,226.45 L427.35,226.45 L427.60,226.44 L427.85,226.44 L428.10,226.44 L428.35,226.44 L428.60,226.43 L428.85,226.43 L429.10,226.43 L429.35,226.43 L429.60,226.42 L429.85,226.42 L430.10,226.42 L430.35,226.42 L430.60,226.41 L430.85,226.41 L431.10,226.41 L431.35,226.41 L431.60,226.40 L431.85,226.40 L432.10,226.40 L432.35,226.40 L432.60,226.39 L432.85,226.39 L433.10,226.39 L433.35,226.39 L433.60,226.38 L433.85,226.38 L434.10,226.38 L434.35,226.38 L434.60,226.37 L434.85,226.37 L435.10,226.37 L435.35,226.37 L435.60,226.36 L435.85,226.36 L436.10,226.36 L436.35,226.36 L436.60,226.35 L436.85,226.35 L437.10,226.35 L437.35,226.35 L437.60,226.34 L437.85,226.34 L438.10,226.34 L438.35,226.34 L438.60,226.33 L438.85,226.33 L439.10,226.33 L439.35,226.33 L439.60,226.32 L439.85,226.32 L440.10,226.32 L440.35,226.32 L440.60,226.31 L440.85,226.31 L441.10,226.31 L441.35,226.31 L441.60,226.30 L441.85,226.30 L442.10,226.30 L442.35,226.30 L442.60,226.29 L442.85,226.29 L443.10,226.29 L443.35,226.29 L443.60,226.28 L443.85,226.28 L444.10,226.28 L444.35,226.28 L444.60,226.27 L444.85,226.27 L445.10,226.27 L445.35,226.27 L445.60,226.26 L445.85,226.26 L446.10,226.26 L446.35,226.26 L446.60,226.25 L446.85,226.25 L447.10,226.25 L447.35,226.25 L447.60,226.24 L447.85,226.24 L448.10,226.24 L448.35,226.24 L448.60,226.23 L448.85,226.23 L449.10,226.23 L449.35,226.23 L449.60,226.22 L449.85,226.22 L450.10,226.22 L450.35,226.22 L450.60,226.21 L450.85,226.21 L451.10,226.21 L451.35,226.21 L451.60,226.20 L451.85,226.20 L452.10,226.20 L452.35,226.20 L452.60,226.19 L452.85,226.19 L453.10,226.19 L453.35,226.19 L453.60,226.18 L453.85,226.18 L454.10,226.18 L454.35,226.18 L454.60,226.17 L454.85,226.17 L455.10,226.17 L455.35,226.17 L455.60,226.16 L455.85,226.16 L456.10,226.16 L456.35,226.16 L456.60,226.15 L456.85,226.15 L457.10,226.15 L457.35,226.15 L457.60,226.14 L457.85,226.14 L458.10,226.14 L458.35,226.14 L458.60,226.13 L458.85,226.13 L459.10,226.13 L459.35,226.13 L459.60,226.12 L459.85,226.12 L460.10,226.12 L460.35,226.12 L460.60,226.11 L460.85,226.11 L461.10,226.11 L461.35,226.11 L461.60,226.10 L461.85,226.10 L462.10,226.10 L462.35,226.10 L462.60,226.09 L462.85,226.09 L463.10,226.09 L463.35,226.09 L463.60,226.08 L463.85,226.08 L464.10,226.08 L464.35,226.08 L464.60,226.07 L464.85,226.07 L465.10,226.07 L465.35,226.07 L465.60,226.06 L465.85,226.06 L466.10,226.06 L466.35,226.06 L466.60,226.05 L466.85,226.05 L467.10,226.05 L467.35,226.05 L467.60,226.04 L467.85,226.04 L468.10,226.04 L468.35,226.04 L468.60,226.03 L468.85,226.03 L469.10,226.03 L469.35,226.03 L469.60,226.02 L469.85,226.02 L470.10,226.02 L470.35,226.02 L470.60,226.01 L470.85,226.01 L471.10,226.01 L471.35,226.01 L471.60,226.00 L471.85,226.00 L472.10,226.00 L472.35,226.00 L472.60,225.99 L472.85,225.99 L473.10,225.99 L473.35,225.99 L473.60,225.98 L473.85,225.98 L474.10,225.98 L474.35,225.98 L474.60,225.97 L474.85,225.97 L475.10,225.97 L475.35,225.97 L475.60,225.96 L475.85,225.96 L476.10,225.96 L476.35,225.96 L476.60,225.95 L476.85,225.95 L477.10,225.95 L477.35,225.95 L477.60,225.94 L477.85,225.94 L478.10,225.94 L478.35,225.94 L478.60,225.93 L478.85,225.93 L479.10,225.93 L479.35,225.93 L479.60,225.92 L479.85,225.92 L480.10,225.92 L480.35,225.92 L480.60,225.91 L480.85,225.91 L481.10,225.91 L481.35,225.91 L481.60,225.90 L481.85,225.90 L482.10,225.90 L482.35,225.90 L482.60,225.89 L482.85,225.89 L483.10,225.89 L483.35,225.89 L483.60,225.88 L483.85,225.88 L484.10,225.88 L484.35,225.88 L484.60,225.87 L484.85,225.87 L485.10,225.87 L485.35,225.87 L485.60,225.86 L485.85,225.86 L486.10,225.86 L486.35,225.86 L486.60,225.85 L486.85,225.85 L487.10,225.85 L487.35,225.85 L487.60,225.84 L487.85,225.84 L488.10,225.84 L488.35,225.84 L488.60,225.83 L488.85,225.83 L489.10,225.83 L489.35,225.83 L489.60,225.82 L489.85,225.82 L490.10,225.82 L490.35,225.82 L490.60,225.81 L490.85,225.81 L491.10,225.81 L491.35,225.81 L491.60,225.80 L491.85,225.79 L492.10,225.78 L492.35,225.76 L492.60,225.72 L492.85,225.65 L493.10,225.53 L493.35,225.36 L493.60,225.11 L493.85,224.78 L494.10,224.38 L494.35,223.95 L494.60,223.53 L494.85,223.18 L495.10,222.96 L495.35,222.90 L495.60,222.99 L495.85,223.18 L496.10,223.46 L496.35,223.80 L496.60,224.16 L496.85,224.51 L497.10,224.82 L497.35,225.08 L497.60,225.29 L497.85,225.44 L498.10,225.55 L498.35,225.62 L498.60,225.67 L498.85,225.70 L499.10,225.71 L499.35,225.72 L499.60,225.72 L499.85,225.72 L500.10,225.72 L500.35,225.72 L500.60,225.71 L500.85,225.71 L501.10,225.71 L501.35,225.71 L501.60,225.70 L501.85,225.70 L502.10,225.70 L502.35,225.70 L502.60,225.69 L502.85,225.69 L503.10,225.69 L503.35,225.69 L503.60,225.68 L503.85,225.68 L504.10,225.68 L504.35,225.68 L504.60,225.67 L504.85,225.67 L505.10,225.67 L505.35,225.67 L505.60,225.66 L505.85,225.66 L506.10,225.66 L506.35,225.66 L506.60,225.65 L506.85,225.65 L507.10,225.65 L507.35,225.65 L507.60,225.64 L507.85,225.64 L508.10,225.64 L508.35,225.64 L508.60,225.63 L508.85,225.63 L509.10,225.63 L509.35,225.63 L509.60,225.62 L509.85,225.62 L510.10,225.62 L510.35,225.62 L510.60,225.61 L510.85,225.61"/>
</g>

<!-- marker lines -->
<g stroke="#0a0a0a" stroke-width="1.5">
<path d="M67.6,98.8 V103.0"/>
<path d="M81.0,99.0 V117.4"/>
<path d="M347.8,118.8 V133.0"/>
</g>

<!-- titles -->
<text class="b s" x="35.6" y="33.6" font-size="10.3">1500 g sup + 5-HETE + <tspan x="149.4" letter-spacing="0.55">NADP</tspan><tspan x="180.2" y="27.6" font-size="6.6" style="stroke-width:0.45px">+</tspan></text>
<text class="b s" x="316.6" y="32.7" font-size="10.3">200,000 g pel + 5-HETE + <tspan x="441.8" letter-spacing="0.3">NADP</tspan><tspan x="471.8" y="26.5" font-size="6.6" style="stroke-width:0.45px">+</tspan></text>

<!-- peak labels (white bg) -->
<g fill="#fff"><rect x="172.4" y="50.6" width="6.2" height="7.8"/><rect x="450.9" y="53.6" width="6.6" height="7.6"/></g>
<g class="bi" font-size="10.3" fill="#fff" stroke="#fff" stroke-width="2.6" stroke-linejoin="round"><text class="bi" transform="translate(156.8 58.1) scale(1.0 1)">5-HETE</text><text class="bi" transform="translate(437.3 61.0) scale(1.0 1)">5-HETE</text><text class="bi" transform="translate(193.8 110.2) scale(1.0 1)">5o-ETE</text><text class="bi" transform="translate(471.0 137.1) scale(1.0 1)">5o-ETE</text><text class="bi" transform="translate(47.7 113.2) scale(1.0 1)">PGB<tspan font-size="6.9" dx="0.7" dy="3.9">2</tspan></text><text class="bi" transform="translate(334.7 142.4) scale(1.0 1)">PGB<tspan font-size="6.9" dx="0.7" dy="3.9">2</tspan></text><text class="bi" transform="translate(74.3 127.3) scale(1.0 1)">5,12-diHETE</text><text class="bi" transform="translate(64.8 172.7) scale(1.0 1)">5o-12h-ETE</text><text class="bi" transform="translate(43.6 197.7) scale(1.0 1)">8t-5o-12h</text></g>
<g class="bi" font-size="10.3" stroke="#111" stroke-width="0.3"><text class="bi" transform="translate(156.8 58.1) scale(1.0 1)">5-HETE</text><text class="bi" transform="translate(437.3 61.0) scale(1.0 1)">5-HETE</text><text class="bi" transform="translate(193.8 110.2) scale(1.0 1)">5o-ETE</text><text class="bi" transform="translate(471.0 137.1) scale(1.0 1)">5o-ETE</text><text class="bi" transform="translate(47.7 113.2) scale(1.0 1)">PGB<tspan font-size="6.9" dx="0.7" dy="3.9">2</tspan></text><text class="bi" transform="translate(334.7 142.4) scale(1.0 1)">PGB<tspan font-size="6.9" dx="0.7" dy="3.9">2</tspan></text><text class="bi" transform="translate(74.3 127.3) scale(1.0 1)">5,12-diHETE</text><text class="bi" transform="translate(64.8 172.7) scale(1.0 1)">5o-12h-ETE</text><text class="bi" transform="translate(43.6 197.7) scale(1.0 1)">8t-5o-12h</text></g>

<!-- curved arrows -->
<g fill="#111">
<path d="M82.0,200.3 C85.6,199.9 89.0,202.0 90.0,206.3 L91.3,207.3 L88.2,210.9 L84.6,208.2 L85.8,207.1 C85.2,204.8 84.2,202.6 82.0,200.3 Z"/>
<path transform="translate(10.3 -24.8)" d="M82.0,200.3 C85.6,199.9 89.0,202.0 90.0,206.3 L91.3,207.3 L88.2,210.9 L84.6,208.2 L85.8,207.1 C85.2,204.8 84.2,202.6 82.0,200.3 Z"/>
</g>

<!-- inset -->
<g fill="none" stroke="#444" stroke-width="0.9">
<path d="M140.6,155.9 V210.4 H219 M179.7,210.4 V211.8"/>
</g>
<path d="M145.40,199.30 C145.67,198.85 146.50,197.28 147.00,196.60 C147.50,195.92 147.97,195.27 148.40,195.20 C148.83,195.13 149.08,195.40 149.60,196.20 C150.12,197.00 150.85,198.92 151.50,200.00 C152.15,201.08 152.75,202.03 153.50,202.70 C154.25,203.37 155.08,203.82 156.00,204.00 C156.92,204.18 157.83,204.03 159.00,203.80 C160.17,203.57 161.67,203.17 163.00,202.60 C164.33,202.03 165.83,201.23 167.00,200.40 C168.17,199.57 169.00,198.90 170.00,197.60 C171.00,196.30 172.05,194.47 173.00,192.60 C173.95,190.73 174.87,188.58 175.70,186.40 C176.53,184.22 177.20,181.82 178.00,179.50 C178.80,177.18 179.67,174.48 180.50,172.50 C181.33,170.52 182.13,168.70 183.00,167.60 C183.87,166.50 184.78,165.93 185.70,165.90 C186.62,165.87 187.62,166.42 188.50,167.40 C189.38,168.38 190.17,169.87 191.00,171.80 C191.83,173.73 192.75,176.55 193.50,179.00 C194.25,181.45 194.68,183.58 195.50,186.50 C196.32,189.42 197.48,193.78 198.40,196.50 C199.32,199.22 200.07,201.17 201.00,202.80 C201.93,204.43 202.83,205.37 204.00,206.30 C205.17,207.23 206.50,207.88 208.00,208.40 C209.50,208.92 211.42,209.18 213.00,209.40 C214.58,209.62 216.75,209.65 217.50,209.70" fill="none" stroke="#222" stroke-width="0.9"/>
<text class="b" font-size="6.4" stroke="#111" stroke-width="0.2" transform="translate(136.8 206.2) rotate(-90) scale(1.05 1)">ABSORBANCE</text>
<text class="bi s" x="171" y="165.3" font-size="8.5" style="stroke-width:0.4px">316 nm</text>
<g class="b" font-size="6.0" text-anchor="middle" stroke="#111" stroke-width="0.25">
<text class="b" transform="translate(140.65 220.5) scale(1.13 1)">200</text>
<text class="b" transform="translate(179.6 220.5) scale(1.13 1)">300</text>
<text class="b" transform="translate(218.5 220.5) scale(1.13 1)">400</text>
</g>
<text class="b" font-size="5.9" stroke="#111" stroke-width="0.2" transform="translate(149.2 226.5) scale(1.12 1)">WAVELENGTH (nm)</text>
</svg>
</body></html>
